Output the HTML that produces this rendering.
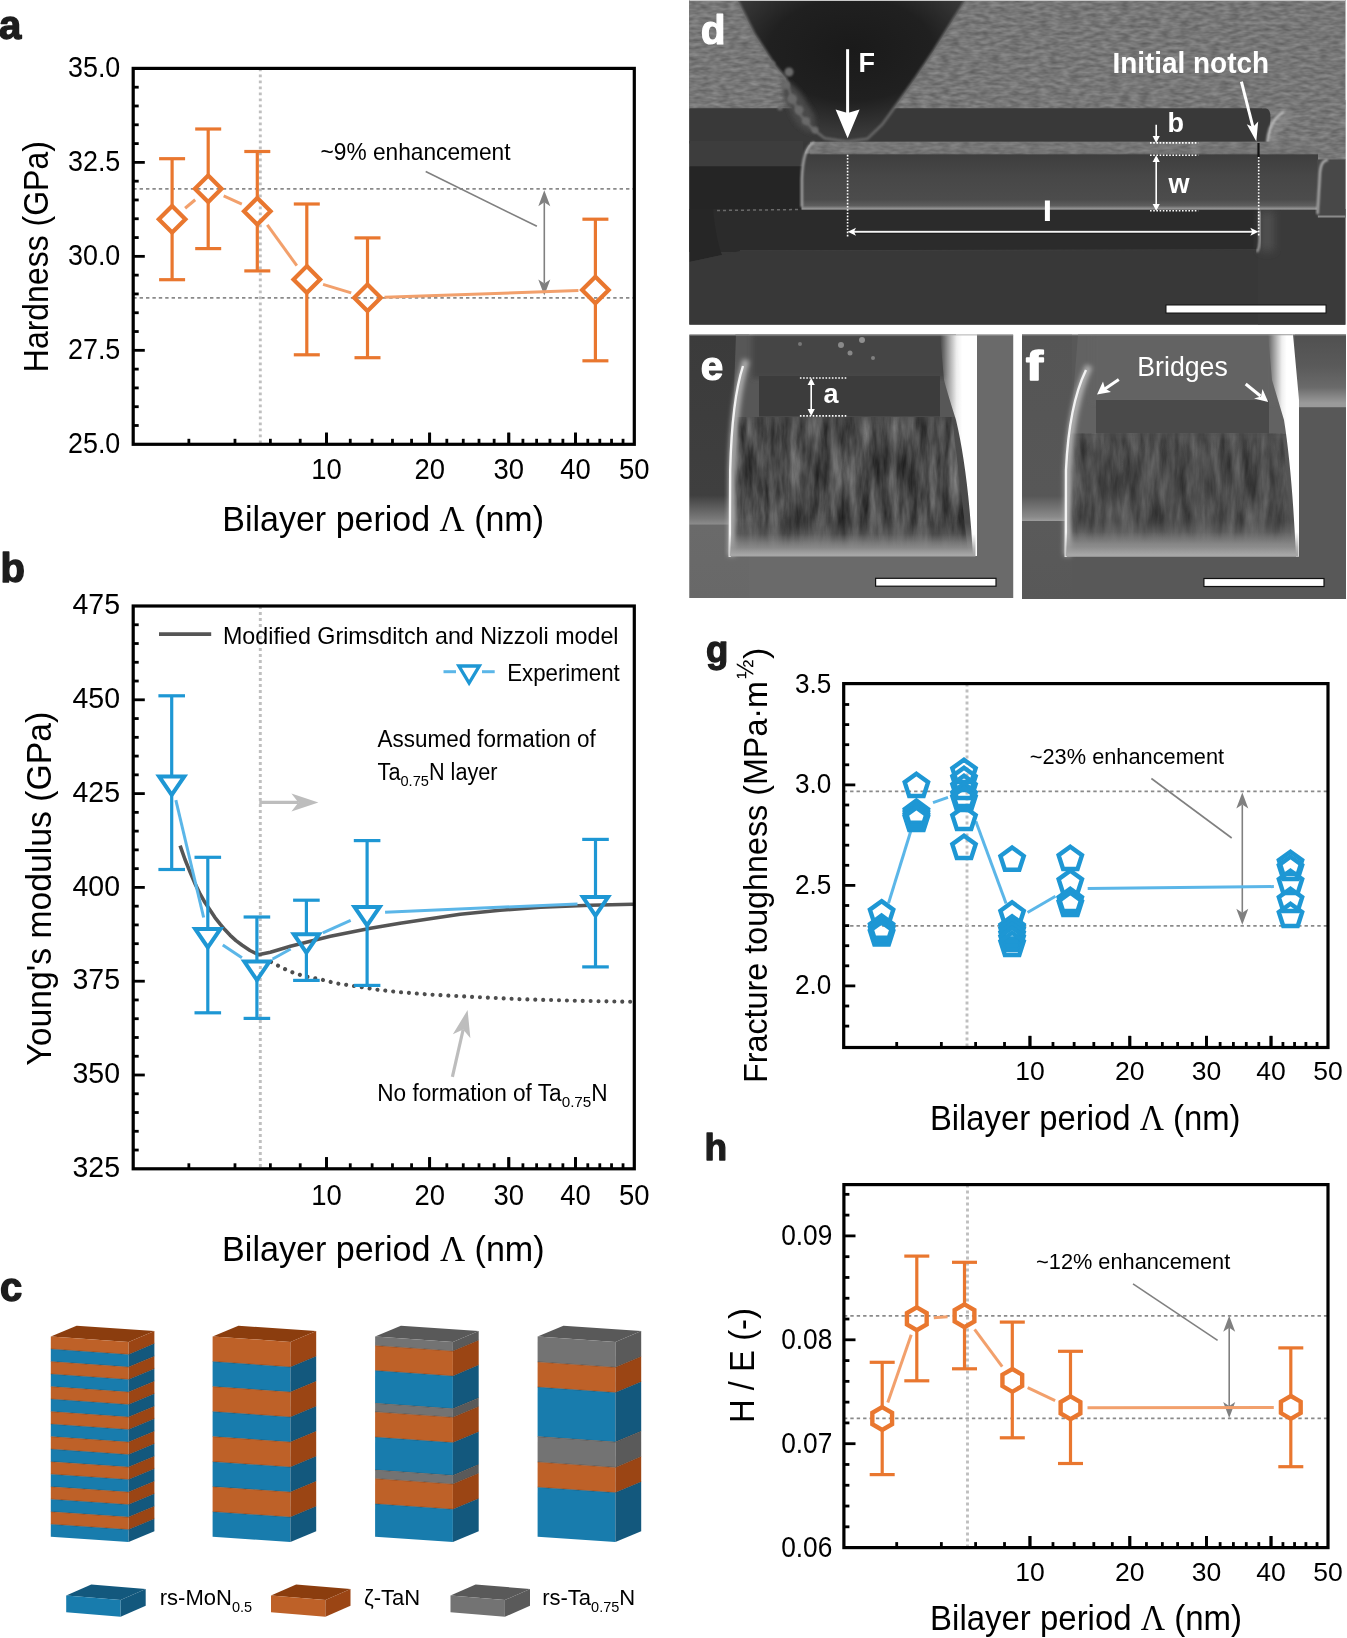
<!DOCTYPE html>
<html><head><meta charset="utf-8"><style>
html,body{margin:0;padding:0;background:#fff;width:1347px;height:1638px;overflow:hidden}
svg{display:block;will-change:transform}
text{font-family:"Liberation Sans",sans-serif}
</style></head><body>
<svg width="1347" height="1638" viewBox="0 0 1347 1638" font-family="'Liberation Sans', sans-serif">
<rect width="1347" height="1638" fill="#fff"/>
<text x="-1" y="39" font-size="40" font-weight="bold" fill="#1d1d1d" stroke="#1d1d1d" stroke-width="1.4" stroke-linejoin="round">a</text>
<text x="0.5" y="581.8" font-size="40" font-weight="bold" fill="#1d1d1d" stroke="#1d1d1d" stroke-width="1.4" stroke-linejoin="round">b</text>
<text x="0" y="1300.8" font-size="40" font-weight="bold" fill="#1d1d1d" stroke="#1d1d1d" stroke-width="1.4" stroke-linejoin="round">c</text>
<line x1="133.2" y1="188.8" x2="634.3" y2="188.8" stroke="#8a8a8a" stroke-width="1.8" stroke-dasharray="3.4 3"/>
<line x1="133.2" y1="297.8" x2="634.3" y2="297.8" stroke="#8a8a8a" stroke-width="1.8" stroke-dasharray="3.4 3"/>
<line x1="260.3" y1="68.4" x2="260.3" y2="444.3" stroke="#bfbfbf" stroke-width="2.9" stroke-dasharray="2.9 3.1"/>
<text x="320.5" y="159.6" font-size="24" textLength="190" lengthAdjust="spacingAndGlyphs">~9% enhancement</text>
<line x1="425.7" y1="171.5" x2="536.9" y2="226.3" stroke="#808080" stroke-width="1.6"/>
<line x1="544.3" y1="202.2" x2="544.3" y2="283.4" stroke="#808080" stroke-width="1.6"/>
<polygon points="544.3,190.2 550.3,206.2 544.3,202.2 538.3,206.2" fill="#808080" stroke="none" stroke-width="0"/>
<polygon points="544.3,295.4 550.3,279.4 544.3,283.4 538.3,279.4" fill="#808080" stroke="none" stroke-width="0"/>
<line x1="185.1" y1="208.25" x2="195.2" y2="199.75" stroke="#F2A06C" stroke-width="3"/>
<line x1="223.67" y1="195.86" x2="241.83" y2="204.14" stroke="#F2A06C" stroke-width="3"/>
<line x1="267.29" y1="224.96" x2="296.81" y2="265.64" stroke="#F2A06C" stroke-width="3"/>
<line x1="323.07" y1="284.33" x2="351.23" y2="292.87" stroke="#F2A06C" stroke-width="3"/>
<line x1="384.49" y1="297.22" x2="578.41" y2="290.58" stroke="#F2A06C" stroke-width="3"/>
<line x1="172.1" y1="158.7" x2="172.1" y2="207.2" stroke="#E9772F" stroke-width="3.2"/>
<line x1="172.1" y1="231.2" x2="172.1" y2="279.7" stroke="#E9772F" stroke-width="3.2"/>
<line x1="159.1" y1="158.7" x2="185.1" y2="158.7" stroke="#E9772F" stroke-width="3.2"/>
<line x1="159.1" y1="279.7" x2="185.1" y2="279.7" stroke="#E9772F" stroke-width="3.2"/>
<line x1="208.2" y1="129" x2="208.2" y2="176.8" stroke="#E9772F" stroke-width="3.2"/>
<line x1="208.2" y1="200.8" x2="208.2" y2="248.6" stroke="#E9772F" stroke-width="3.2"/>
<line x1="195.2" y1="129" x2="221.2" y2="129" stroke="#E9772F" stroke-width="3.2"/>
<line x1="195.2" y1="248.6" x2="221.2" y2="248.6" stroke="#E9772F" stroke-width="3.2"/>
<line x1="257.3" y1="151.5" x2="257.3" y2="199.2" stroke="#E9772F" stroke-width="3.2"/>
<line x1="257.3" y1="223.2" x2="257.3" y2="270.9" stroke="#E9772F" stroke-width="3.2"/>
<line x1="244.3" y1="151.5" x2="270.3" y2="151.5" stroke="#E9772F" stroke-width="3.2"/>
<line x1="244.3" y1="270.9" x2="270.3" y2="270.9" stroke="#E9772F" stroke-width="3.2"/>
<line x1="306.8" y1="204" x2="306.8" y2="267.4" stroke="#E9772F" stroke-width="3.2"/>
<line x1="306.8" y1="291.4" x2="306.8" y2="354.8" stroke="#E9772F" stroke-width="3.2"/>
<line x1="293.8" y1="204" x2="319.8" y2="204" stroke="#E9772F" stroke-width="3.2"/>
<line x1="293.8" y1="354.8" x2="319.8" y2="354.8" stroke="#E9772F" stroke-width="3.2"/>
<line x1="367.5" y1="237.9" x2="367.5" y2="285.8" stroke="#E9772F" stroke-width="3.2"/>
<line x1="367.5" y1="309.8" x2="367.5" y2="357.7" stroke="#E9772F" stroke-width="3.2"/>
<line x1="354.5" y1="237.9" x2="380.5" y2="237.9" stroke="#E9772F" stroke-width="3.2"/>
<line x1="354.5" y1="357.7" x2="380.5" y2="357.7" stroke="#E9772F" stroke-width="3.2"/>
<line x1="595.4" y1="219.2" x2="595.4" y2="278" stroke="#E9772F" stroke-width="3.2"/>
<line x1="595.4" y1="302" x2="595.4" y2="360.8" stroke="#E9772F" stroke-width="3.2"/>
<line x1="582.4" y1="219.2" x2="608.4" y2="219.2" stroke="#E9772F" stroke-width="3.2"/>
<line x1="582.4" y1="360.8" x2="608.4" y2="360.8" stroke="#E9772F" stroke-width="3.2"/>
<polygon points="172.1,205.9 185.4,219.2 172.1,232.5 158.8,219.2" fill="none" stroke="#E9772F" stroke-width="4.2"/>
<polygon points="208.2,175.5 221.5,188.8 208.2,202.1 194.9,188.8" fill="none" stroke="#E9772F" stroke-width="4.2"/>
<polygon points="257.3,197.9 270.6,211.2 257.3,224.5 244,211.2" fill="none" stroke="#E9772F" stroke-width="4.2"/>
<polygon points="306.8,266.1 320.1,279.4 306.8,292.7 293.5,279.4" fill="none" stroke="#E9772F" stroke-width="4.2"/>
<polygon points="367.5,284.5 380.8,297.8 367.5,311.1 354.2,297.8" fill="none" stroke="#E9772F" stroke-width="4.2"/>
<polygon points="595.4,276.7 608.7,290 595.4,303.3 582.1,290" fill="none" stroke="#E9772F" stroke-width="4.2"/>
<rect x="133.2" y="68.4" width="501.1" height="375.9" fill="none" stroke="#000" stroke-width="3.2"/>
<line x1="188.86" y1="444.3" x2="188.86" y2="438.8" stroke="#000" stroke-width="2.8"/>
<line x1="234.98" y1="444.3" x2="234.98" y2="438.8" stroke="#000" stroke-width="2.8"/>
<line x1="270.37" y1="444.3" x2="270.37" y2="438.8" stroke="#000" stroke-width="2.8"/>
<line x1="300.21" y1="444.3" x2="300.21" y2="438.8" stroke="#000" stroke-width="2.8"/>
<line x1="326.5" y1="444.3" x2="326.5" y2="432.7" stroke="#000" stroke-width="2.8"/>
<line x1="350.26" y1="444.3" x2="350.26" y2="438.8" stroke="#000" stroke-width="2.8"/>
<line x1="372.12" y1="444.3" x2="372.12" y2="438.8" stroke="#000" stroke-width="2.8"/>
<line x1="392.46" y1="444.3" x2="392.46" y2="438.8" stroke="#000" stroke-width="2.8"/>
<line x1="411.57" y1="444.3" x2="411.57" y2="438.8" stroke="#000" stroke-width="2.8"/>
<line x1="429.64" y1="444.3" x2="429.64" y2="432.7" stroke="#000" stroke-width="2.8"/>
<line x1="446.82" y1="444.3" x2="446.82" y2="438.8" stroke="#000" stroke-width="2.8"/>
<line x1="463.25" y1="444.3" x2="463.25" y2="438.8" stroke="#000" stroke-width="2.8"/>
<line x1="479" y1="444.3" x2="479" y2="438.8" stroke="#000" stroke-width="2.8"/>
<line x1="494.15" y1="444.3" x2="494.15" y2="438.8" stroke="#000" stroke-width="2.8"/>
<line x1="508.78" y1="444.3" x2="508.78" y2="432.7" stroke="#000" stroke-width="2.8"/>
<line x1="522.92" y1="444.3" x2="522.92" y2="438.8" stroke="#000" stroke-width="2.8"/>
<line x1="536.63" y1="444.3" x2="536.63" y2="438.8" stroke="#000" stroke-width="2.8"/>
<line x1="549.94" y1="444.3" x2="549.94" y2="438.8" stroke="#000" stroke-width="2.8"/>
<line x1="562.89" y1="444.3" x2="562.89" y2="438.8" stroke="#000" stroke-width="2.8"/>
<line x1="575.5" y1="444.3" x2="575.5" y2="432.7" stroke="#000" stroke-width="2.8"/>
<line x1="587.79" y1="444.3" x2="587.79" y2="438.8" stroke="#000" stroke-width="2.8"/>
<line x1="599.8" y1="444.3" x2="599.8" y2="438.8" stroke="#000" stroke-width="2.8"/>
<line x1="611.54" y1="444.3" x2="611.54" y2="438.8" stroke="#000" stroke-width="2.8"/>
<line x1="623.03" y1="444.3" x2="623.03" y2="438.8" stroke="#000" stroke-width="2.8"/>
<line x1="326.5" y1="444.3" x2="326.5" y2="432.7" stroke="#000" stroke-width="2.8"/>
<line x1="429.64" y1="444.3" x2="429.64" y2="432.7" stroke="#000" stroke-width="2.8"/>
<line x1="508.78" y1="444.3" x2="508.78" y2="432.7" stroke="#000" stroke-width="2.8"/>
<line x1="575.5" y1="444.3" x2="575.5" y2="432.7" stroke="#000" stroke-width="2.8"/>
<line x1="133.2" y1="425.5" x2="138.7" y2="425.5" stroke="#000" stroke-width="2.8"/>
<line x1="133.2" y1="406.71" x2="138.7" y2="406.71" stroke="#000" stroke-width="2.8"/>
<line x1="133.2" y1="387.92" x2="138.7" y2="387.92" stroke="#000" stroke-width="2.8"/>
<line x1="133.2" y1="369.12" x2="138.7" y2="369.12" stroke="#000" stroke-width="2.8"/>
<line x1="133.2" y1="331.53" x2="138.7" y2="331.53" stroke="#000" stroke-width="2.8"/>
<line x1="133.2" y1="312.74" x2="138.7" y2="312.74" stroke="#000" stroke-width="2.8"/>
<line x1="133.2" y1="293.94" x2="138.7" y2="293.94" stroke="#000" stroke-width="2.8"/>
<line x1="133.2" y1="275.14" x2="138.7" y2="275.14" stroke="#000" stroke-width="2.8"/>
<line x1="133.2" y1="237.56" x2="138.7" y2="237.56" stroke="#000" stroke-width="2.8"/>
<line x1="133.2" y1="218.76" x2="138.7" y2="218.76" stroke="#000" stroke-width="2.8"/>
<line x1="133.2" y1="199.97" x2="138.7" y2="199.97" stroke="#000" stroke-width="2.8"/>
<line x1="133.2" y1="181.17" x2="138.7" y2="181.17" stroke="#000" stroke-width="2.8"/>
<line x1="133.2" y1="143.58" x2="138.7" y2="143.58" stroke="#000" stroke-width="2.8"/>
<line x1="133.2" y1="124.79" x2="138.7" y2="124.79" stroke="#000" stroke-width="2.8"/>
<line x1="133.2" y1="105.99" x2="138.7" y2="105.99" stroke="#000" stroke-width="2.8"/>
<line x1="133.2" y1="87.2" x2="138.7" y2="87.2" stroke="#000" stroke-width="2.8"/>
<line x1="133.2" y1="350.33" x2="144.8" y2="350.33" stroke="#000" stroke-width="2.8"/>
<line x1="133.2" y1="256.35" x2="144.8" y2="256.35" stroke="#000" stroke-width="2.8"/>
<line x1="133.2" y1="162.38" x2="144.8" y2="162.38" stroke="#000" stroke-width="2.8"/>
<text x="120.3" y="452.5" font-size="30.2" text-anchor="end" textLength="52.3" lengthAdjust="spacingAndGlyphs">25.0</text>
<text x="120.3" y="358.53" font-size="30.2" text-anchor="end" textLength="52.3" lengthAdjust="spacingAndGlyphs">27.5</text>
<text x="120.3" y="264.55" font-size="30.2" text-anchor="end" textLength="52.3" lengthAdjust="spacingAndGlyphs">30.0</text>
<text x="120.3" y="170.57" font-size="30.2" text-anchor="end" textLength="52.3" lengthAdjust="spacingAndGlyphs">32.5</text>
<text x="120.3" y="76.6" font-size="30.2" text-anchor="end" textLength="52.3" lengthAdjust="spacingAndGlyphs">35.0</text>
<text x="326.5" y="479.2" font-size="30.2" text-anchor="middle" textLength="30.5" lengthAdjust="spacingAndGlyphs">10</text>
<text x="429.64" y="479.2" font-size="30.2" text-anchor="middle" textLength="30.5" lengthAdjust="spacingAndGlyphs">20</text>
<text x="508.78" y="479.2" font-size="30.2" text-anchor="middle" textLength="30.5" lengthAdjust="spacingAndGlyphs">30</text>
<text x="575.5" y="479.2" font-size="30.2" text-anchor="middle" textLength="30.5" lengthAdjust="spacingAndGlyphs">40</text>
<text x="634.28" y="479.2" font-size="30.2" text-anchor="middle" textLength="30.5" lengthAdjust="spacingAndGlyphs">50</text>
<text x="222.3" y="530.5" font-size="35" textLength="321.7" lengthAdjust="spacingAndGlyphs">Bilayer period <tspan font-family="'Liberation Serif', serif" font-size="35.7">&#923;</tspan> (nm)</text>
<text x="47.6" y="256.7" font-size="34.5" text-anchor="middle" textLength="231" lengthAdjust="spacingAndGlyphs" transform="rotate(-90 47.6 256.7)">Hardness (GPa)</text>
<line x1="260.3" y1="606" x2="260.3" y2="1168.8" stroke="#bfbfbf" stroke-width="2.9" stroke-dasharray="2.9 3.1"/>
<line x1="159" y1="634.1" x2="211.2" y2="634.1" stroke="#555" stroke-width="3.6"/>
<text x="223" y="643.7" font-size="24" textLength="395.5" lengthAdjust="spacingAndGlyphs">Modified Grimsditch and Nizzoli model</text>
<line x1="443.5" y1="671.7" x2="456" y2="671.7" stroke="#5BB6E8" stroke-width="3"/>
<line x1="482" y1="671.7" x2="494.7" y2="671.7" stroke="#5BB6E8" stroke-width="3"/>
<polygon points="458.9,666 479.3,666 469.1,683" fill="#fff" stroke="#1E97D4" stroke-width="3.4"/>
<text x="507.2" y="681.3" font-size="24" textLength="112.5" lengthAdjust="spacingAndGlyphs">Experiment</text>
<text x="377.6" y="747.4" font-size="23.3" textLength="218.2" lengthAdjust="spacingAndGlyphs">Assumed formation of</text>
<text x="377.6" y="779.6" font-size="23" textLength="120" lengthAdjust="spacingAndGlyphs">Ta<tspan font-size="15.5" dy="6.3">0.75</tspan><tspan dy="-6.3">N layer</tspan></text>
<line x1="259.3" y1="802.4" x2="298.4" y2="802.4" stroke="#bdbdbd" stroke-width="3.2"/>
<polygon points="318.4,802.4 291.4,811.4 298.4,802.4 291.4,793.4" fill="#bdbdbd" stroke="none" stroke-width="0"/>
<line x1="452.4" y1="1076.9" x2="463.17" y2="1029.5" stroke="#bdbdbd" stroke-width="3.2"/>
<polygon points="467.6,1010 470.39,1038.32 463.17,1029.5 452.84,1034.33" fill="#bdbdbd" stroke="none" stroke-width="0"/>
<text x="377.2" y="1100.9" font-size="23" textLength="230.5" lengthAdjust="spacingAndGlyphs">No formation of Ta<tspan font-size="15.5" dy="6.3">0.75</tspan><tspan dy="-6.3">N</tspan></text>
<polyline points="180.1,845.7 185,859.5 190.1,872.1 195,883.6 200.2,894.2 205,902.6 210.2,910.2 215,917.6 220.2,924.2 225,929.8 230.2,935.3 236,940.6 242.2,945.3 250,950.5 258.3,954.7 270.3,952.3 290.4,946.3 310.4,941.3 330.4,936.3 350.5,932.2 370.5,928.2 400,923.2 430,918.8 460.2,914.2 500,910.2 540.4,907.2 590,905.3 633,904.2" fill="none" stroke="#555" stroke-width="3.6" stroke-linejoin="round"/>
<polyline points="271,962 273.3,963.3 289.3,971.3 304.4,976.3 320.4,979.3 336.4,983.4 351.5,985.6 375.6,989.5 400,992.2 430,994.6 471.4,996.8 520,999.2 582.7,1000.9 632,1001.8" fill="none" stroke="#4d4d4d" stroke-width="4.1" stroke-dasharray="0.01 7.9" stroke-linecap="round"/>
<line x1="175.85" y1="800.12" x2="203.65" y2="917.48" stroke="#5BB6E8" stroke-width="3"/>
<line x1="222.78" y1="944.98" x2="241.92" y2="957.72" stroke="#5BB6E8" stroke-width="3"/>
<line x1="272.65" y1="958.98" x2="290.65" y2="949.02" stroke="#5BB6E8" stroke-width="3"/>
<line x1="322.82" y1="932.92" x2="350.68" y2="920.38" stroke="#5BB6E8" stroke-width="3"/>
<line x1="385.08" y1="912.23" x2="577.52" y2="903.97" stroke="#5BB6E8" stroke-width="3"/>
<line x1="171.7" y1="695.8" x2="171.7" y2="776.6" stroke="#1E97D4" stroke-width="3.2"/>
<line x1="171.7" y1="792.6" x2="171.7" y2="869.5" stroke="#1E97D4" stroke-width="3.2"/>
<line x1="158.4" y1="695.8" x2="185" y2="695.8" stroke="#1E97D4" stroke-width="3.2"/>
<line x1="158.4" y1="869.5" x2="185" y2="869.5" stroke="#1E97D4" stroke-width="3.2"/>
<line x1="207.8" y1="857.3" x2="207.8" y2="929" stroke="#1E97D4" stroke-width="3.2"/>
<line x1="207.8" y1="945" x2="207.8" y2="1012.8" stroke="#1E97D4" stroke-width="3.2"/>
<line x1="194.5" y1="857.3" x2="221.1" y2="857.3" stroke="#1E97D4" stroke-width="3.2"/>
<line x1="194.5" y1="1012.8" x2="221.1" y2="1012.8" stroke="#1E97D4" stroke-width="3.2"/>
<line x1="256.9" y1="917" x2="256.9" y2="961.7" stroke="#1E97D4" stroke-width="3.2"/>
<line x1="256.9" y1="977.7" x2="256.9" y2="1018.4" stroke="#1E97D4" stroke-width="3.2"/>
<line x1="243.6" y1="917" x2="270.2" y2="917" stroke="#1E97D4" stroke-width="3.2"/>
<line x1="243.6" y1="1018.4" x2="270.2" y2="1018.4" stroke="#1E97D4" stroke-width="3.2"/>
<line x1="306.4" y1="900.2" x2="306.4" y2="934.3" stroke="#1E97D4" stroke-width="3.2"/>
<line x1="306.4" y1="950.3" x2="306.4" y2="980.4" stroke="#1E97D4" stroke-width="3.2"/>
<line x1="293.1" y1="900.2" x2="319.7" y2="900.2" stroke="#1E97D4" stroke-width="3.2"/>
<line x1="293.1" y1="980.4" x2="319.7" y2="980.4" stroke="#1E97D4" stroke-width="3.2"/>
<line x1="367.1" y1="840.6" x2="367.1" y2="907" stroke="#1E97D4" stroke-width="3.2"/>
<line x1="367.1" y1="923" x2="367.1" y2="985.4" stroke="#1E97D4" stroke-width="3.2"/>
<line x1="353.8" y1="840.6" x2="380.4" y2="840.6" stroke="#1E97D4" stroke-width="3.2"/>
<line x1="353.8" y1="985.4" x2="380.4" y2="985.4" stroke="#1E97D4" stroke-width="3.2"/>
<line x1="595.5" y1="839.4" x2="595.5" y2="897.2" stroke="#1E97D4" stroke-width="3.2"/>
<line x1="595.5" y1="913.2" x2="595.5" y2="966.9" stroke="#1E97D4" stroke-width="3.2"/>
<line x1="582.2" y1="839.4" x2="608.8" y2="839.4" stroke="#1E97D4" stroke-width="3.2"/>
<line x1="582.2" y1="966.9" x2="608.8" y2="966.9" stroke="#1E97D4" stroke-width="3.2"/>
<polygon points="159.1,776.5 184.3,776.5 171.7,795" fill="none" stroke="#1E97D4" stroke-width="4"/>
<polygon points="195.2,928.9 220.4,928.9 207.8,947.4" fill="none" stroke="#1E97D4" stroke-width="4"/>
<polygon points="244.3,961.6 269.5,961.6 256.9,980.1" fill="none" stroke="#1E97D4" stroke-width="4"/>
<polygon points="293.8,934.2 319,934.2 306.4,952.7" fill="none" stroke="#1E97D4" stroke-width="4"/>
<polygon points="354.5,906.9 379.7,906.9 367.1,925.4" fill="none" stroke="#1E97D4" stroke-width="4"/>
<polygon points="582.9,897.1 608.1,897.1 595.5,915.6" fill="none" stroke="#1E97D4" stroke-width="4"/>
<rect x="133.2" y="606" width="501.1" height="562.8" fill="none" stroke="#000" stroke-width="3.2"/>
<line x1="188.86" y1="1168.8" x2="188.86" y2="1163.3" stroke="#000" stroke-width="2.8"/>
<line x1="234.98" y1="1168.8" x2="234.98" y2="1163.3" stroke="#000" stroke-width="2.8"/>
<line x1="270.37" y1="1168.8" x2="270.37" y2="1163.3" stroke="#000" stroke-width="2.8"/>
<line x1="300.21" y1="1168.8" x2="300.21" y2="1163.3" stroke="#000" stroke-width="2.8"/>
<line x1="326.5" y1="1168.8" x2="326.5" y2="1157.2" stroke="#000" stroke-width="2.8"/>
<line x1="350.26" y1="1168.8" x2="350.26" y2="1163.3" stroke="#000" stroke-width="2.8"/>
<line x1="372.12" y1="1168.8" x2="372.12" y2="1163.3" stroke="#000" stroke-width="2.8"/>
<line x1="392.46" y1="1168.8" x2="392.46" y2="1163.3" stroke="#000" stroke-width="2.8"/>
<line x1="411.57" y1="1168.8" x2="411.57" y2="1163.3" stroke="#000" stroke-width="2.8"/>
<line x1="429.64" y1="1168.8" x2="429.64" y2="1157.2" stroke="#000" stroke-width="2.8"/>
<line x1="446.82" y1="1168.8" x2="446.82" y2="1163.3" stroke="#000" stroke-width="2.8"/>
<line x1="463.25" y1="1168.8" x2="463.25" y2="1163.3" stroke="#000" stroke-width="2.8"/>
<line x1="479" y1="1168.8" x2="479" y2="1163.3" stroke="#000" stroke-width="2.8"/>
<line x1="494.15" y1="1168.8" x2="494.15" y2="1163.3" stroke="#000" stroke-width="2.8"/>
<line x1="508.78" y1="1168.8" x2="508.78" y2="1157.2" stroke="#000" stroke-width="2.8"/>
<line x1="522.92" y1="1168.8" x2="522.92" y2="1163.3" stroke="#000" stroke-width="2.8"/>
<line x1="536.63" y1="1168.8" x2="536.63" y2="1163.3" stroke="#000" stroke-width="2.8"/>
<line x1="549.94" y1="1168.8" x2="549.94" y2="1163.3" stroke="#000" stroke-width="2.8"/>
<line x1="562.89" y1="1168.8" x2="562.89" y2="1163.3" stroke="#000" stroke-width="2.8"/>
<line x1="575.5" y1="1168.8" x2="575.5" y2="1157.2" stroke="#000" stroke-width="2.8"/>
<line x1="587.79" y1="1168.8" x2="587.79" y2="1163.3" stroke="#000" stroke-width="2.8"/>
<line x1="599.8" y1="1168.8" x2="599.8" y2="1163.3" stroke="#000" stroke-width="2.8"/>
<line x1="611.54" y1="1168.8" x2="611.54" y2="1163.3" stroke="#000" stroke-width="2.8"/>
<line x1="623.03" y1="1168.8" x2="623.03" y2="1163.3" stroke="#000" stroke-width="2.8"/>
<line x1="326.5" y1="1168.8" x2="326.5" y2="1157.2" stroke="#000" stroke-width="2.8"/>
<line x1="429.64" y1="1168.8" x2="429.64" y2="1157.2" stroke="#000" stroke-width="2.8"/>
<line x1="508.78" y1="1168.8" x2="508.78" y2="1157.2" stroke="#000" stroke-width="2.8"/>
<line x1="575.5" y1="1168.8" x2="575.5" y2="1157.2" stroke="#000" stroke-width="2.8"/>
<line x1="133.2" y1="1150.04" x2="138.7" y2="1150.04" stroke="#000" stroke-width="2.8"/>
<line x1="133.2" y1="1131.28" x2="138.7" y2="1131.28" stroke="#000" stroke-width="2.8"/>
<line x1="133.2" y1="1112.52" x2="138.7" y2="1112.52" stroke="#000" stroke-width="2.8"/>
<line x1="133.2" y1="1093.76" x2="138.7" y2="1093.76" stroke="#000" stroke-width="2.8"/>
<line x1="133.2" y1="1056.24" x2="138.7" y2="1056.24" stroke="#000" stroke-width="2.8"/>
<line x1="133.2" y1="1037.48" x2="138.7" y2="1037.48" stroke="#000" stroke-width="2.8"/>
<line x1="133.2" y1="1018.72" x2="138.7" y2="1018.72" stroke="#000" stroke-width="2.8"/>
<line x1="133.2" y1="999.96" x2="138.7" y2="999.96" stroke="#000" stroke-width="2.8"/>
<line x1="133.2" y1="962.44" x2="138.7" y2="962.44" stroke="#000" stroke-width="2.8"/>
<line x1="133.2" y1="943.68" x2="138.7" y2="943.68" stroke="#000" stroke-width="2.8"/>
<line x1="133.2" y1="924.92" x2="138.7" y2="924.92" stroke="#000" stroke-width="2.8"/>
<line x1="133.2" y1="906.16" x2="138.7" y2="906.16" stroke="#000" stroke-width="2.8"/>
<line x1="133.2" y1="868.64" x2="138.7" y2="868.64" stroke="#000" stroke-width="2.8"/>
<line x1="133.2" y1="849.88" x2="138.7" y2="849.88" stroke="#000" stroke-width="2.8"/>
<line x1="133.2" y1="831.12" x2="138.7" y2="831.12" stroke="#000" stroke-width="2.8"/>
<line x1="133.2" y1="812.36" x2="138.7" y2="812.36" stroke="#000" stroke-width="2.8"/>
<line x1="133.2" y1="774.84" x2="138.7" y2="774.84" stroke="#000" stroke-width="2.8"/>
<line x1="133.2" y1="756.08" x2="138.7" y2="756.08" stroke="#000" stroke-width="2.8"/>
<line x1="133.2" y1="737.32" x2="138.7" y2="737.32" stroke="#000" stroke-width="2.8"/>
<line x1="133.2" y1="718.56" x2="138.7" y2="718.56" stroke="#000" stroke-width="2.8"/>
<line x1="133.2" y1="681.04" x2="138.7" y2="681.04" stroke="#000" stroke-width="2.8"/>
<line x1="133.2" y1="662.28" x2="138.7" y2="662.28" stroke="#000" stroke-width="2.8"/>
<line x1="133.2" y1="643.52" x2="138.7" y2="643.52" stroke="#000" stroke-width="2.8"/>
<line x1="133.2" y1="624.76" x2="138.7" y2="624.76" stroke="#000" stroke-width="2.8"/>
<line x1="133.2" y1="1075" x2="144.8" y2="1075" stroke="#000" stroke-width="2.8"/>
<line x1="133.2" y1="981.2" x2="144.8" y2="981.2" stroke="#000" stroke-width="2.8"/>
<line x1="133.2" y1="887.4" x2="144.8" y2="887.4" stroke="#000" stroke-width="2.8"/>
<line x1="133.2" y1="793.6" x2="144.8" y2="793.6" stroke="#000" stroke-width="2.8"/>
<line x1="133.2" y1="699.8" x2="144.8" y2="699.8" stroke="#000" stroke-width="2.8"/>
<text x="120" y="1177" font-size="30.2" text-anchor="end" textLength="47.5" lengthAdjust="spacingAndGlyphs">325</text>
<text x="120" y="1083.2" font-size="30.2" text-anchor="end" textLength="47.5" lengthAdjust="spacingAndGlyphs">350</text>
<text x="120" y="989.4" font-size="30.2" text-anchor="end" textLength="47.5" lengthAdjust="spacingAndGlyphs">375</text>
<text x="120" y="895.6" font-size="30.2" text-anchor="end" textLength="47.5" lengthAdjust="spacingAndGlyphs">400</text>
<text x="120" y="801.8" font-size="30.2" text-anchor="end" textLength="47.5" lengthAdjust="spacingAndGlyphs">425</text>
<text x="120" y="708" font-size="30.2" text-anchor="end" textLength="47.5" lengthAdjust="spacingAndGlyphs">450</text>
<text x="120" y="614.2" font-size="30.2" text-anchor="end" textLength="47.5" lengthAdjust="spacingAndGlyphs">475</text>
<text x="326.5" y="1204.8" font-size="30.2" text-anchor="middle" textLength="30.5" lengthAdjust="spacingAndGlyphs">10</text>
<text x="429.64" y="1204.8" font-size="30.2" text-anchor="middle" textLength="30.5" lengthAdjust="spacingAndGlyphs">20</text>
<text x="508.78" y="1204.8" font-size="30.2" text-anchor="middle" textLength="30.5" lengthAdjust="spacingAndGlyphs">30</text>
<text x="575.5" y="1204.8" font-size="30.2" text-anchor="middle" textLength="30.5" lengthAdjust="spacingAndGlyphs">40</text>
<text x="634.28" y="1204.8" font-size="30.2" text-anchor="middle" textLength="30.5" lengthAdjust="spacingAndGlyphs">50</text>
<text x="222.1" y="1260.5" font-size="35" textLength="322.5" lengthAdjust="spacingAndGlyphs">Bilayer period <tspan font-family="'Liberation Serif', serif" font-size="35.7">&#923;</tspan> (nm)</text>
<text x="51.3" y="888.7" font-size="34.5" text-anchor="middle" textLength="354" lengthAdjust="spacingAndGlyphs" transform="rotate(-90 51.3 888.7)">Young's modulus (GPa)</text>
<polygon points="50.8,1336.5 128.6,1341.9 154.4,1331.1 76.6,1325.7" fill="#8B3D0E" stroke="none" stroke-width="0"/>
<polygon points="50.8,1336.5 128.6,1341.9 128.6,1354.41 50.8,1349.01" fill="#BE6128" stroke="none" stroke-width="0"/>
<polygon points="128.6,1341.9 154.4,1331.1 154.4,1343.61 128.6,1354.41" fill="#9B4514" stroke="none" stroke-width="0"/>
<polygon points="50.8,1349.01 128.6,1354.41 128.6,1366.93 50.8,1361.53" fill="#187CAD" stroke="none" stroke-width="0"/>
<polygon points="128.6,1354.41 154.4,1343.61 154.4,1356.13 128.6,1366.93" fill="#13587D" stroke="none" stroke-width="0"/>
<polygon points="50.8,1361.53 128.6,1366.93 128.6,1379.44 50.8,1374.04" fill="#BE6128" stroke="none" stroke-width="0"/>
<polygon points="128.6,1366.93 154.4,1356.13 154.4,1368.64 128.6,1379.44" fill="#9B4514" stroke="none" stroke-width="0"/>
<polygon points="50.8,1374.04 128.6,1379.44 128.6,1391.95 50.8,1386.55" fill="#187CAD" stroke="none" stroke-width="0"/>
<polygon points="128.6,1379.44 154.4,1368.64 154.4,1381.15 128.6,1391.95" fill="#13587D" stroke="none" stroke-width="0"/>
<polygon points="50.8,1386.55 128.6,1391.95 128.6,1404.46 50.8,1399.06" fill="#BE6128" stroke="none" stroke-width="0"/>
<polygon points="128.6,1391.95 154.4,1381.15 154.4,1393.66 128.6,1404.46" fill="#9B4514" stroke="none" stroke-width="0"/>
<polygon points="50.8,1399.06 128.6,1404.46 128.6,1416.98 50.8,1411.58" fill="#187CAD" stroke="none" stroke-width="0"/>
<polygon points="128.6,1404.46 154.4,1393.66 154.4,1406.18 128.6,1416.98" fill="#13587D" stroke="none" stroke-width="0"/>
<polygon points="50.8,1411.58 128.6,1416.98 128.6,1429.49 50.8,1424.09" fill="#BE6128" stroke="none" stroke-width="0"/>
<polygon points="128.6,1416.98 154.4,1406.18 154.4,1418.69 128.6,1429.49" fill="#9B4514" stroke="none" stroke-width="0"/>
<polygon points="50.8,1424.09 128.6,1429.49 128.6,1442 50.8,1436.6" fill="#187CAD" stroke="none" stroke-width="0"/>
<polygon points="128.6,1429.49 154.4,1418.69 154.4,1431.2 128.6,1442" fill="#13587D" stroke="none" stroke-width="0"/>
<polygon points="50.8,1436.6 128.6,1442 128.6,1454.51 50.8,1449.11" fill="#BE6128" stroke="none" stroke-width="0"/>
<polygon points="128.6,1442 154.4,1431.2 154.4,1443.71 128.6,1454.51" fill="#9B4514" stroke="none" stroke-width="0"/>
<polygon points="50.8,1449.11 128.6,1454.51 128.6,1467.03 50.8,1461.63" fill="#187CAD" stroke="none" stroke-width="0"/>
<polygon points="128.6,1454.51 154.4,1443.71 154.4,1456.23 128.6,1467.03" fill="#13587D" stroke="none" stroke-width="0"/>
<polygon points="50.8,1461.63 128.6,1467.03 128.6,1479.54 50.8,1474.14" fill="#BE6128" stroke="none" stroke-width="0"/>
<polygon points="128.6,1467.03 154.4,1456.23 154.4,1468.74 128.6,1479.54" fill="#9B4514" stroke="none" stroke-width="0"/>
<polygon points="50.8,1474.14 128.6,1479.54 128.6,1492.05 50.8,1486.65" fill="#187CAD" stroke="none" stroke-width="0"/>
<polygon points="128.6,1479.54 154.4,1468.74 154.4,1481.25 128.6,1492.05" fill="#13587D" stroke="none" stroke-width="0"/>
<polygon points="50.8,1486.65 128.6,1492.05 128.6,1504.56 50.8,1499.16" fill="#BE6128" stroke="none" stroke-width="0"/>
<polygon points="128.6,1492.05 154.4,1481.25 154.4,1493.76 128.6,1504.56" fill="#9B4514" stroke="none" stroke-width="0"/>
<polygon points="50.8,1499.16 128.6,1504.56 128.6,1517.08 50.8,1511.68" fill="#187CAD" stroke="none" stroke-width="0"/>
<polygon points="128.6,1504.56 154.4,1493.76 154.4,1506.28 128.6,1517.08" fill="#13587D" stroke="none" stroke-width="0"/>
<polygon points="50.8,1511.68 128.6,1517.08 128.6,1529.59 50.8,1524.19" fill="#BE6128" stroke="none" stroke-width="0"/>
<polygon points="128.6,1517.08 154.4,1506.28 154.4,1518.79 128.6,1529.59" fill="#9B4514" stroke="none" stroke-width="0"/>
<polygon points="50.8,1524.19 128.6,1529.59 128.6,1542.1 50.8,1536.7" fill="#187CAD" stroke="none" stroke-width="0"/>
<polygon points="128.6,1529.59 154.4,1518.79 154.4,1531.3 128.6,1542.1" fill="#13587D" stroke="none" stroke-width="0"/>
<polyline points="50.8,1349.01 128.6,1354.41 154.4,1343.61" fill="none" stroke="rgba(60,30,10,0.35)" stroke-width="0.9"/>
<polyline points="50.8,1361.53 128.6,1366.93 154.4,1356.13" fill="none" stroke="rgba(60,30,10,0.35)" stroke-width="0.9"/>
<polyline points="50.8,1374.04 128.6,1379.44 154.4,1368.64" fill="none" stroke="rgba(60,30,10,0.35)" stroke-width="0.9"/>
<polyline points="50.8,1386.55 128.6,1391.95 154.4,1381.15" fill="none" stroke="rgba(60,30,10,0.35)" stroke-width="0.9"/>
<polyline points="50.8,1399.06 128.6,1404.46 154.4,1393.66" fill="none" stroke="rgba(60,30,10,0.35)" stroke-width="0.9"/>
<polyline points="50.8,1411.58 128.6,1416.98 154.4,1406.18" fill="none" stroke="rgba(60,30,10,0.35)" stroke-width="0.9"/>
<polyline points="50.8,1424.09 128.6,1429.49 154.4,1418.69" fill="none" stroke="rgba(60,30,10,0.35)" stroke-width="0.9"/>
<polyline points="50.8,1436.6 128.6,1442 154.4,1431.2" fill="none" stroke="rgba(60,30,10,0.35)" stroke-width="0.9"/>
<polyline points="50.8,1449.11 128.6,1454.51 154.4,1443.71" fill="none" stroke="rgba(60,30,10,0.35)" stroke-width="0.9"/>
<polyline points="50.8,1461.63 128.6,1467.03 154.4,1456.23" fill="none" stroke="rgba(60,30,10,0.35)" stroke-width="0.9"/>
<polyline points="50.8,1474.14 128.6,1479.54 154.4,1468.74" fill="none" stroke="rgba(60,30,10,0.35)" stroke-width="0.9"/>
<polyline points="50.8,1486.65 128.6,1492.05 154.4,1481.25" fill="none" stroke="rgba(60,30,10,0.35)" stroke-width="0.9"/>
<polyline points="50.8,1499.16 128.6,1504.56 154.4,1493.76" fill="none" stroke="rgba(60,30,10,0.35)" stroke-width="0.9"/>
<polyline points="50.8,1511.68 128.6,1517.08 154.4,1506.28" fill="none" stroke="rgba(60,30,10,0.35)" stroke-width="0.9"/>
<polyline points="50.8,1524.19 128.6,1529.59 154.4,1518.79" fill="none" stroke="rgba(60,30,10,0.35)" stroke-width="0.9"/>
<polygon points="212.6,1336.5 290.4,1341.9 316.2,1331.1 238.4,1325.7" fill="#8B3D0E" stroke="none" stroke-width="0"/>
<polygon points="212.6,1336.5 290.4,1341.9 290.4,1366.93 212.6,1361.53" fill="#BE6128" stroke="none" stroke-width="0"/>
<polygon points="290.4,1341.9 316.2,1331.1 316.2,1356.13 290.4,1366.93" fill="#9B4514" stroke="none" stroke-width="0"/>
<polygon points="212.6,1361.53 290.4,1366.93 290.4,1391.95 212.6,1386.55" fill="#187CAD" stroke="none" stroke-width="0"/>
<polygon points="290.4,1366.93 316.2,1356.13 316.2,1381.15 290.4,1391.95" fill="#13587D" stroke="none" stroke-width="0"/>
<polygon points="212.6,1386.55 290.4,1391.95 290.4,1416.98 212.6,1411.58" fill="#BE6128" stroke="none" stroke-width="0"/>
<polygon points="290.4,1391.95 316.2,1381.15 316.2,1406.18 290.4,1416.98" fill="#9B4514" stroke="none" stroke-width="0"/>
<polygon points="212.6,1411.58 290.4,1416.98 290.4,1442 212.6,1436.6" fill="#187CAD" stroke="none" stroke-width="0"/>
<polygon points="290.4,1416.98 316.2,1406.18 316.2,1431.2 290.4,1442" fill="#13587D" stroke="none" stroke-width="0"/>
<polygon points="212.6,1436.6 290.4,1442 290.4,1467.03 212.6,1461.63" fill="#BE6128" stroke="none" stroke-width="0"/>
<polygon points="290.4,1442 316.2,1431.2 316.2,1456.23 290.4,1467.03" fill="#9B4514" stroke="none" stroke-width="0"/>
<polygon points="212.6,1461.63 290.4,1467.03 290.4,1492.05 212.6,1486.65" fill="#187CAD" stroke="none" stroke-width="0"/>
<polygon points="290.4,1467.03 316.2,1456.23 316.2,1481.25 290.4,1492.05" fill="#13587D" stroke="none" stroke-width="0"/>
<polygon points="212.6,1486.65 290.4,1492.05 290.4,1517.08 212.6,1511.68" fill="#BE6128" stroke="none" stroke-width="0"/>
<polygon points="290.4,1492.05 316.2,1481.25 316.2,1506.28 290.4,1517.08" fill="#9B4514" stroke="none" stroke-width="0"/>
<polygon points="212.6,1511.68 290.4,1517.08 290.4,1542.1 212.6,1536.7" fill="#187CAD" stroke="none" stroke-width="0"/>
<polygon points="290.4,1517.08 316.2,1506.28 316.2,1531.3 290.4,1542.1" fill="#13587D" stroke="none" stroke-width="0"/>
<polyline points="212.6,1361.53 290.4,1366.93 316.2,1356.13" fill="none" stroke="rgba(60,30,10,0.35)" stroke-width="0.9"/>
<polyline points="212.6,1386.55 290.4,1391.95 316.2,1381.15" fill="none" stroke="rgba(60,30,10,0.35)" stroke-width="0.9"/>
<polyline points="212.6,1411.58 290.4,1416.98 316.2,1406.18" fill="none" stroke="rgba(60,30,10,0.35)" stroke-width="0.9"/>
<polyline points="212.6,1436.6 290.4,1442 316.2,1431.2" fill="none" stroke="rgba(60,30,10,0.35)" stroke-width="0.9"/>
<polyline points="212.6,1461.63 290.4,1467.03 316.2,1456.23" fill="none" stroke="rgba(60,30,10,0.35)" stroke-width="0.9"/>
<polyline points="212.6,1486.65 290.4,1492.05 316.2,1481.25" fill="none" stroke="rgba(60,30,10,0.35)" stroke-width="0.9"/>
<polyline points="212.6,1511.68 290.4,1517.08 316.2,1506.28" fill="none" stroke="rgba(60,30,10,0.35)" stroke-width="0.9"/>
<polygon points="375.1,1336.5 452.9,1341.9 478.7,1331.1 400.9,1325.7" fill="#595959" stroke="none" stroke-width="0"/>
<polygon points="375.1,1336.5 452.9,1341.9 452.9,1351 375.1,1345.6" fill="#737373" stroke="none" stroke-width="0"/>
<polygon points="452.9,1341.9 478.7,1331.1 478.7,1340.2 452.9,1351" fill="#5A5A5A" stroke="none" stroke-width="0"/>
<polygon points="375.1,1345.6 452.9,1351 452.9,1375.9 375.1,1370.5" fill="#BE6128" stroke="none" stroke-width="0"/>
<polygon points="452.9,1351 478.7,1340.2 478.7,1365.1 452.9,1375.9" fill="#9B4514" stroke="none" stroke-width="0"/>
<polygon points="375.1,1370.5 452.9,1375.9 452.9,1408.7 375.1,1403.3" fill="#187CAD" stroke="none" stroke-width="0"/>
<polygon points="452.9,1375.9 478.7,1365.1 478.7,1397.9 452.9,1408.7" fill="#13587D" stroke="none" stroke-width="0"/>
<polygon points="375.1,1403.3 452.9,1408.7 452.9,1417.3 375.1,1411.9" fill="#737373" stroke="none" stroke-width="0"/>
<polygon points="452.9,1408.7 478.7,1397.9 478.7,1406.5 452.9,1417.3" fill="#5A5A5A" stroke="none" stroke-width="0"/>
<polygon points="375.1,1411.9 452.9,1417.3 452.9,1442.5 375.1,1437.1" fill="#BE6128" stroke="none" stroke-width="0"/>
<polygon points="452.9,1417.3 478.7,1406.5 478.7,1431.7 452.9,1442.5" fill="#9B4514" stroke="none" stroke-width="0"/>
<polygon points="375.1,1437.1 452.9,1442.5 452.9,1475.4 375.1,1470" fill="#187CAD" stroke="none" stroke-width="0"/>
<polygon points="452.9,1442.5 478.7,1431.7 478.7,1464.6 452.9,1475.4" fill="#13587D" stroke="none" stroke-width="0"/>
<polygon points="375.1,1470 452.9,1475.4 452.9,1484 375.1,1478.6" fill="#737373" stroke="none" stroke-width="0"/>
<polygon points="452.9,1475.4 478.7,1464.6 478.7,1473.2 452.9,1484" fill="#5A5A5A" stroke="none" stroke-width="0"/>
<polygon points="375.1,1478.6 452.9,1484 452.9,1509.2 375.1,1503.8" fill="#BE6128" stroke="none" stroke-width="0"/>
<polygon points="452.9,1484 478.7,1473.2 478.7,1498.4 452.9,1509.2" fill="#9B4514" stroke="none" stroke-width="0"/>
<polygon points="375.1,1503.8 452.9,1509.2 452.9,1542.1 375.1,1536.7" fill="#187CAD" stroke="none" stroke-width="0"/>
<polygon points="452.9,1509.2 478.7,1498.4 478.7,1531.3 452.9,1542.1" fill="#13587D" stroke="none" stroke-width="0"/>
<polyline points="375.1,1345.6 452.9,1351 478.7,1340.2" fill="none" stroke="rgba(60,30,10,0.35)" stroke-width="0.9"/>
<polyline points="375.1,1370.5 452.9,1375.9 478.7,1365.1" fill="none" stroke="rgba(60,30,10,0.35)" stroke-width="0.9"/>
<polyline points="375.1,1403.3 452.9,1408.7 478.7,1397.9" fill="none" stroke="rgba(60,30,10,0.35)" stroke-width="0.9"/>
<polyline points="375.1,1411.9 452.9,1417.3 478.7,1406.5" fill="none" stroke="rgba(60,30,10,0.35)" stroke-width="0.9"/>
<polyline points="375.1,1437.1 452.9,1442.5 478.7,1431.7" fill="none" stroke="rgba(60,30,10,0.35)" stroke-width="0.9"/>
<polyline points="375.1,1470 452.9,1475.4 478.7,1464.6" fill="none" stroke="rgba(60,30,10,0.35)" stroke-width="0.9"/>
<polyline points="375.1,1478.6 452.9,1484 478.7,1473.2" fill="none" stroke="rgba(60,30,10,0.35)" stroke-width="0.9"/>
<polyline points="375.1,1503.8 452.9,1509.2 478.7,1498.4" fill="none" stroke="rgba(60,30,10,0.35)" stroke-width="0.9"/>
<polygon points="537.6,1336.5 615.4,1341.9 641.2,1331.1 563.4,1325.7" fill="#595959" stroke="none" stroke-width="0"/>
<polygon points="537.6,1336.5 615.4,1341.9 615.4,1367.3 537.6,1361.9" fill="#737373" stroke="none" stroke-width="0"/>
<polygon points="615.4,1341.9 641.2,1331.1 641.2,1356.5 615.4,1367.3" fill="#5A5A5A" stroke="none" stroke-width="0"/>
<polygon points="537.6,1361.9 615.4,1367.3 615.4,1392.5 537.6,1387.1" fill="#BE6128" stroke="none" stroke-width="0"/>
<polygon points="615.4,1367.3 641.2,1356.5 641.2,1381.7 615.4,1392.5" fill="#9B4514" stroke="none" stroke-width="0"/>
<polygon points="537.6,1387.1 615.4,1392.5 615.4,1442 537.6,1436.6" fill="#187CAD" stroke="none" stroke-width="0"/>
<polygon points="615.4,1392.5 641.2,1381.7 641.2,1431.2 615.4,1442" fill="#13587D" stroke="none" stroke-width="0"/>
<polygon points="537.6,1436.6 615.4,1442 615.4,1467.4 537.6,1462" fill="#737373" stroke="none" stroke-width="0"/>
<polygon points="615.4,1442 641.2,1431.2 641.2,1456.6 615.4,1467.4" fill="#5A5A5A" stroke="none" stroke-width="0"/>
<polygon points="537.6,1462 615.4,1467.4 615.4,1492.6 537.6,1487.2" fill="#BE6128" stroke="none" stroke-width="0"/>
<polygon points="615.4,1467.4 641.2,1456.6 641.2,1481.8 615.4,1492.6" fill="#9B4514" stroke="none" stroke-width="0"/>
<polygon points="537.6,1487.2 615.4,1492.6 615.4,1542.1 537.6,1536.7" fill="#187CAD" stroke="none" stroke-width="0"/>
<polygon points="615.4,1492.6 641.2,1481.8 641.2,1531.3 615.4,1542.1" fill="#13587D" stroke="none" stroke-width="0"/>
<polyline points="537.6,1361.9 615.4,1367.3 641.2,1356.5" fill="none" stroke="rgba(60,30,10,0.35)" stroke-width="0.9"/>
<polyline points="537.6,1387.1 615.4,1392.5 641.2,1381.7" fill="none" stroke="rgba(60,30,10,0.35)" stroke-width="0.9"/>
<polyline points="537.6,1436.6 615.4,1442 641.2,1431.2" fill="none" stroke="rgba(60,30,10,0.35)" stroke-width="0.9"/>
<polyline points="537.6,1462 615.4,1467.4 641.2,1456.6" fill="none" stroke="rgba(60,30,10,0.35)" stroke-width="0.9"/>
<polyline points="537.6,1487.2 615.4,1492.6 641.2,1481.8" fill="none" stroke="rgba(60,30,10,0.35)" stroke-width="0.9"/>
<polygon points="66.2,1595.6 120.6,1600.1 145.7,1589 91.3,1584.5" fill="#13587D" stroke="none" stroke-width="0"/>
<polygon points="66.2,1595.6 120.6,1600.1 120.6,1616.8 66.2,1612.3" fill="#187CAD" stroke="none" stroke-width="0"/>
<polygon points="120.6,1600.1 145.7,1589 145.7,1605.7 120.6,1616.8" fill="#13587D" stroke="none" stroke-width="0"/>
<polygon points="271,1595.6 325.4,1600.1 350.5,1589 296.1,1584.5" fill="#8B3D0E" stroke="none" stroke-width="0"/>
<polygon points="271,1595.6 325.4,1600.1 325.4,1616.8 271,1612.3" fill="#BE6128" stroke="none" stroke-width="0"/>
<polygon points="325.4,1600.1 350.5,1589 350.5,1605.7 325.4,1616.8" fill="#9B4514" stroke="none" stroke-width="0"/>
<polygon points="450.5,1595.6 504.9,1600.1 530,1589 475.6,1584.5" fill="#595959" stroke="none" stroke-width="0"/>
<polygon points="450.5,1595.6 504.9,1600.1 504.9,1616.8 450.5,1612.3" fill="#737373" stroke="none" stroke-width="0"/>
<polygon points="504.9,1600.1 530,1589 530,1605.7 504.9,1616.8" fill="#5A5A5A" stroke="none" stroke-width="0"/>
<text x="159.8" y="1604.5" font-size="22">rs-MoN<tspan font-size="14.5" dy="7.5">0.5</tspan></text>
<text x="364" y="1604.5" font-size="22">&#950;-TaN</text>
<text x="542.2" y="1604.5" font-size="22">rs-Ta<tspan font-size="14.5" dy="7.5">0.75</tspan><tspan dy="-7.5">N</tspan></text>
<text x="706" y="661.5" font-size="36.5" font-weight="bold" fill="#1d1d1d" stroke="#1d1d1d" stroke-width="1.3" stroke-linejoin="round">g</text>
<line x1="843.7" y1="791.3" x2="1328" y2="791.3" stroke="#8a8a8a" stroke-width="1.8" stroke-dasharray="3.4 3"/>
<line x1="843.7" y1="925.8" x2="1328" y2="925.8" stroke="#8a8a8a" stroke-width="1.8" stroke-dasharray="3.4 3"/>
<line x1="967" y1="683.6" x2="967" y2="1047.5" stroke="#bfbfbf" stroke-width="2.9" stroke-dasharray="2.9 3.1"/>
<text x="1029.8" y="764.1" font-size="21.5" textLength="194.3" lengthAdjust="spacingAndGlyphs">~23% enhancement</text>
<line x1="1151.4" y1="778.5" x2="1231.7" y2="838" stroke="#808080" stroke-width="1.6"/>
<line x1="1242.3" y1="804.6" x2="1242.3" y2="912.8" stroke="#808080" stroke-width="1.6"/>
<polygon points="1242.3,792.6 1248.3,808.6 1242.3,804.6 1236.3,808.6" fill="#808080" stroke="none" stroke-width="0"/>
<polygon points="1242.3,924.8 1248.3,908.8 1242.3,912.8 1236.3,908.8" fill="#808080" stroke="none" stroke-width="0"/>
<line x1="888.5" y1="903.2" x2="910.8" y2="831" stroke="#5BB6E8" stroke-width="3"/>
<line x1="933" y1="802.6" x2="948" y2="797.3" stroke="#5BB6E8" stroke-width="3"/>
<line x1="975.8" y1="821.3" x2="1006.1" y2="903.5" stroke="#5BB6E8" stroke-width="3"/>
<line x1="1027.5" y1="912.5" x2="1055.5" y2="896.3" stroke="#5BB6E8" stroke-width="3"/>
<line x1="1087.7" y1="888.4" x2="1273.9" y2="886.6" stroke="#5BB6E8" stroke-width="3"/>
<polygon points="881.6,901.1 893.3,909.6 888.83,923.35 874.37,923.35 869.9,909.6" fill="none" stroke="#1E97D4" stroke-width="4.4"/>
<polygon points="881.6,915.5 893.3,924 888.83,937.75 874.37,937.75 869.9,924" fill="none" stroke="#1E97D4" stroke-width="4.4"/>
<polygon points="881.6,918.7 893.3,927.2 888.83,940.95 874.37,940.95 869.9,927.2" fill="none" stroke="#1E97D4" stroke-width="4.4"/>
<polygon points="881.6,922.2 893.3,930.7 888.83,944.45 874.37,944.45 869.9,930.7" fill="none" stroke="#1E97D4" stroke-width="4.4"/>
<polygon points="916.4,773.7 928.1,782.2 923.63,795.95 909.17,795.95 904.7,782.2" fill="none" stroke="#1E97D4" stroke-width="4.4"/>
<polygon points="916.4,800.5 928.1,809 923.63,822.75 909.17,822.75 904.7,809" fill="none" stroke="#1E97D4" stroke-width="4.4"/>
<polygon points="916.4,803.2 928.1,811.7 923.63,825.45 909.17,825.45 904.7,811.7" fill="none" stroke="#1E97D4" stroke-width="4.4"/>
<polygon points="916.4,805.7 928.1,814.2 923.63,827.95 909.17,827.95 904.7,814.2" fill="none" stroke="#1E97D4" stroke-width="4.4"/>
<polygon points="916.4,807.7 928.1,816.2 923.63,829.95 909.17,829.95 904.7,816.2" fill="none" stroke="#1E97D4" stroke-width="4.4"/>
<polygon points="964,759.7 975.7,768.2 971.23,781.95 956.77,781.95 952.3,768.2" fill="none" stroke="#1E97D4" stroke-width="4.4"/>
<polygon points="964,767.7 975.7,776.2 971.23,789.95 956.77,789.95 952.3,776.2" fill="none" stroke="#1E97D4" stroke-width="4.4"/>
<polygon points="964,775.7 975.7,784.2 971.23,797.95 956.77,797.95 952.3,784.2" fill="none" stroke="#1E97D4" stroke-width="4.4"/>
<polygon points="964,783.7 975.7,792.2 971.23,805.95 956.77,805.95 952.3,792.2" fill="none" stroke="#1E97D4" stroke-width="4.4"/>
<polygon points="964,787.7 975.7,796.2 971.23,809.95 956.77,809.95 952.3,796.2" fill="none" stroke="#1E97D4" stroke-width="4.4"/>
<polygon points="964,806.7 975.7,815.2 971.23,828.95 956.77,828.95 952.3,815.2" fill="none" stroke="#1E97D4" stroke-width="4.4"/>
<polygon points="964,835.7 975.7,844.2 971.23,857.95 956.77,857.95 952.3,844.2" fill="none" stroke="#1E97D4" stroke-width="4.4"/>
<polygon points="1012.1,847.5 1023.8,856 1019.33,869.75 1004.87,869.75 1000.4,856" fill="none" stroke="#1E97D4" stroke-width="4.4"/>
<polygon points="1012.1,902.3 1023.8,910.8 1019.33,924.55 1004.87,924.55 1000.4,910.8" fill="none" stroke="#1E97D4" stroke-width="4.4"/>
<polygon points="1012.1,916.2 1023.8,924.7 1019.33,938.45 1004.87,938.45 1000.4,924.7" fill="none" stroke="#1E97D4" stroke-width="4.4"/>
<polygon points="1012.1,919.7 1023.8,928.2 1019.33,941.95 1004.87,941.95 1000.4,928.2" fill="none" stroke="#1E97D4" stroke-width="4.4"/>
<polygon points="1012.1,923.7 1023.8,932.2 1019.33,945.95 1004.87,945.95 1000.4,932.2" fill="none" stroke="#1E97D4" stroke-width="4.4"/>
<polygon points="1012.1,927.7 1023.8,936.2 1019.33,949.95 1004.87,949.95 1000.4,936.2" fill="none" stroke="#1E97D4" stroke-width="4.4"/>
<polygon points="1012.1,932.7 1023.8,941.2 1019.33,954.95 1004.87,954.95 1000.4,941.2" fill="none" stroke="#1E97D4" stroke-width="4.4"/>
<polygon points="1070.3,846.7 1082,855.2 1077.53,868.95 1063.07,868.95 1058.6,855.2" fill="none" stroke="#1E97D4" stroke-width="4.4"/>
<polygon points="1070.3,870.7 1082,879.2 1077.53,892.95 1063.07,892.95 1058.6,879.2" fill="none" stroke="#1E97D4" stroke-width="4.4"/>
<polygon points="1070.3,888.7 1082,897.2 1077.53,910.95 1063.07,910.95 1058.6,897.2" fill="none" stroke="#1E97D4" stroke-width="4.4"/>
<polygon points="1070.3,892.7 1082,901.2 1077.53,914.95 1063.07,914.95 1058.6,901.2" fill="none" stroke="#1E97D4" stroke-width="4.4"/>
<polygon points="1290.5,851.7 1302.2,860.2 1297.73,873.95 1283.27,873.95 1278.8,860.2" fill="none" stroke="#1E97D4" stroke-width="4.4"/>
<polygon points="1290.5,856.7 1302.2,865.2 1297.73,878.95 1283.27,878.95 1278.8,865.2" fill="none" stroke="#1E97D4" stroke-width="4.4"/>
<polygon points="1290.5,870.7 1302.2,879.2 1297.73,892.95 1283.27,892.95 1278.8,879.2" fill="none" stroke="#1E97D4" stroke-width="4.4"/>
<polygon points="1290.5,888.7 1302.2,897.2 1297.73,910.95 1283.27,910.95 1278.8,897.2" fill="none" stroke="#1E97D4" stroke-width="4.4"/>
<polygon points="1290.5,903.7 1302.2,912.2 1297.73,925.95 1283.27,925.95 1278.8,912.2" fill="none" stroke="#1E97D4" stroke-width="4.4"/>
<rect x="843.7" y="683.6" width="484.3" height="363.9" fill="none" stroke="#000" stroke-width="3.2"/>
<line x1="896.71" y1="1047.5" x2="896.71" y2="1042" stroke="#000" stroke-width="2.8"/>
<line x1="941.36" y1="1047.5" x2="941.36" y2="1042" stroke="#000" stroke-width="2.8"/>
<line x1="975.62" y1="1047.5" x2="975.62" y2="1042" stroke="#000" stroke-width="2.8"/>
<line x1="1004.51" y1="1047.5" x2="1004.51" y2="1042" stroke="#000" stroke-width="2.8"/>
<line x1="1029.96" y1="1047.5" x2="1029.96" y2="1035.9" stroke="#000" stroke-width="2.8"/>
<line x1="1052.97" y1="1047.5" x2="1052.97" y2="1042" stroke="#000" stroke-width="2.8"/>
<line x1="1074.13" y1="1047.5" x2="1074.13" y2="1042" stroke="#000" stroke-width="2.8"/>
<line x1="1093.82" y1="1047.5" x2="1093.82" y2="1042" stroke="#000" stroke-width="2.8"/>
<line x1="1112.32" y1="1047.5" x2="1112.32" y2="1042" stroke="#000" stroke-width="2.8"/>
<line x1="1129.81" y1="1047.5" x2="1129.81" y2="1035.9" stroke="#000" stroke-width="2.8"/>
<line x1="1146.45" y1="1047.5" x2="1146.45" y2="1042" stroke="#000" stroke-width="2.8"/>
<line x1="1162.35" y1="1047.5" x2="1162.35" y2="1042" stroke="#000" stroke-width="2.8"/>
<line x1="1177.6" y1="1047.5" x2="1177.6" y2="1042" stroke="#000" stroke-width="2.8"/>
<line x1="1192.27" y1="1047.5" x2="1192.27" y2="1042" stroke="#000" stroke-width="2.8"/>
<line x1="1206.43" y1="1047.5" x2="1206.43" y2="1035.9" stroke="#000" stroke-width="2.8"/>
<line x1="1220.12" y1="1047.5" x2="1220.12" y2="1042" stroke="#000" stroke-width="2.8"/>
<line x1="1233.39" y1="1047.5" x2="1233.39" y2="1042" stroke="#000" stroke-width="2.8"/>
<line x1="1246.28" y1="1047.5" x2="1246.28" y2="1042" stroke="#000" stroke-width="2.8"/>
<line x1="1258.81" y1="1047.5" x2="1258.81" y2="1042" stroke="#000" stroke-width="2.8"/>
<line x1="1271.02" y1="1047.5" x2="1271.02" y2="1035.9" stroke="#000" stroke-width="2.8"/>
<line x1="1282.93" y1="1047.5" x2="1282.93" y2="1042" stroke="#000" stroke-width="2.8"/>
<line x1="1294.55" y1="1047.5" x2="1294.55" y2="1042" stroke="#000" stroke-width="2.8"/>
<line x1="1305.92" y1="1047.5" x2="1305.92" y2="1042" stroke="#000" stroke-width="2.8"/>
<line x1="1317.04" y1="1047.5" x2="1317.04" y2="1042" stroke="#000" stroke-width="2.8"/>
<line x1="1029.96" y1="1047.5" x2="1029.96" y2="1035.9" stroke="#000" stroke-width="2.8"/>
<line x1="1129.81" y1="1047.5" x2="1129.81" y2="1035.9" stroke="#000" stroke-width="2.8"/>
<line x1="1206.43" y1="1047.5" x2="1206.43" y2="1035.9" stroke="#000" stroke-width="2.8"/>
<line x1="1271.02" y1="1047.5" x2="1271.02" y2="1035.9" stroke="#000" stroke-width="2.8"/>
<line x1="843.7" y1="1026.1" x2="849.2" y2="1026.1" stroke="#000" stroke-width="2.8"/>
<line x1="843.7" y1="1006" x2="849.2" y2="1006" stroke="#000" stroke-width="2.8"/>
<line x1="843.7" y1="965.8" x2="849.2" y2="965.8" stroke="#000" stroke-width="2.8"/>
<line x1="843.7" y1="945.7" x2="849.2" y2="945.7" stroke="#000" stroke-width="2.8"/>
<line x1="843.7" y1="925.6" x2="849.2" y2="925.6" stroke="#000" stroke-width="2.8"/>
<line x1="843.7" y1="905.5" x2="849.2" y2="905.5" stroke="#000" stroke-width="2.8"/>
<line x1="843.7" y1="865.3" x2="849.2" y2="865.3" stroke="#000" stroke-width="2.8"/>
<line x1="843.7" y1="845.2" x2="849.2" y2="845.2" stroke="#000" stroke-width="2.8"/>
<line x1="843.7" y1="825.1" x2="849.2" y2="825.1" stroke="#000" stroke-width="2.8"/>
<line x1="843.7" y1="805" x2="849.2" y2="805" stroke="#000" stroke-width="2.8"/>
<line x1="843.7" y1="764.8" x2="849.2" y2="764.8" stroke="#000" stroke-width="2.8"/>
<line x1="843.7" y1="744.7" x2="849.2" y2="744.7" stroke="#000" stroke-width="2.8"/>
<line x1="843.7" y1="724.6" x2="849.2" y2="724.6" stroke="#000" stroke-width="2.8"/>
<line x1="843.7" y1="704.5" x2="849.2" y2="704.5" stroke="#000" stroke-width="2.8"/>
<line x1="843.7" y1="985.9" x2="855.3" y2="985.9" stroke="#000" stroke-width="2.8"/>
<line x1="843.7" y1="885.4" x2="855.3" y2="885.4" stroke="#000" stroke-width="2.8"/>
<line x1="843.7" y1="784.9" x2="855.3" y2="784.9" stroke="#000" stroke-width="2.8"/>
<text x="831.2" y="994.3" font-size="27.1" text-anchor="end" textLength="36.3" lengthAdjust="spacingAndGlyphs">2.0</text>
<text x="831.2" y="893.8" font-size="27.1" text-anchor="end" textLength="36.3" lengthAdjust="spacingAndGlyphs">2.5</text>
<text x="831.2" y="793.3" font-size="27.1" text-anchor="end" textLength="36.3" lengthAdjust="spacingAndGlyphs">3.0</text>
<text x="831.2" y="692.8" font-size="27.1" text-anchor="end" textLength="36.3" lengthAdjust="spacingAndGlyphs">3.5</text>
<text x="1029.96" y="1080.3" font-size="26.1" text-anchor="middle" textLength="29.5" lengthAdjust="spacingAndGlyphs">10</text>
<text x="1129.81" y="1080.3" font-size="26.1" text-anchor="middle" textLength="29.5" lengthAdjust="spacingAndGlyphs">20</text>
<text x="1206.43" y="1080.3" font-size="26.1" text-anchor="middle" textLength="29.5" lengthAdjust="spacingAndGlyphs">30</text>
<text x="1271.02" y="1080.3" font-size="26.1" text-anchor="middle" textLength="29.5" lengthAdjust="spacingAndGlyphs">40</text>
<text x="1327.93" y="1080.3" font-size="26.1" text-anchor="middle" textLength="29.5" lengthAdjust="spacingAndGlyphs">50</text>
<text x="929.9" y="1129.9" font-size="34.3" textLength="310.6" lengthAdjust="spacingAndGlyphs">Bilayer period <tspan font-family="'Liberation Serif', serif" font-size="34.99">&#923;</tspan> (nm)</text>
<g transform="translate(766.9,1083) rotate(-90)"><text x="0" y="0" font-size="34" textLength="402" lengthAdjust="spacingAndGlyphs">Fracture toughness (MPa&#183;m</text><text x="404.2" y="-13.5" font-size="23">&#189;</text><text x="424" y="0" font-size="34">)</text></g>
<text x="704.5" y="1160.3" font-size="37" font-weight="bold" fill="#1d1d1d" stroke="#1d1d1d" stroke-width="1.3" stroke-linejoin="round">h</text>
<line x1="843.9" y1="1315.8" x2="1328" y2="1315.8" stroke="#8a8a8a" stroke-width="1.8" stroke-dasharray="3.4 3"/>
<line x1="843.9" y1="1418.3" x2="1328" y2="1418.3" stroke="#8a8a8a" stroke-width="1.8" stroke-dasharray="3.4 3"/>
<line x1="967.5" y1="1184.6" x2="967.5" y2="1547.6" stroke="#bfbfbf" stroke-width="2.9" stroke-dasharray="2.9 3.1"/>
<text x="1036.1" y="1268.6" font-size="21.5" textLength="194.1" lengthAdjust="spacingAndGlyphs">~12% enhancement</text>
<line x1="1133" y1="1283.8" x2="1217.6" y2="1340.3" stroke="#808080" stroke-width="1.6"/>
<line x1="1229.2" y1="1327.8" x2="1229.2" y2="1406" stroke="#808080" stroke-width="1.6"/>
<polygon points="1229.2,1315.8 1235.2,1331.8 1229.2,1327.8 1223.2,1331.8" fill="#808080" stroke="none" stroke-width="0"/>
<polygon points="1229.2,1418 1235.2,1402 1229.2,1406 1223.2,1402" fill="#808080" stroke="none" stroke-width="0"/>
<line x1="887.77" y1="1402.44" x2="911.23" y2="1334.86" stroke="#F2A06C" stroke-width="3"/>
<line x1="933.77" y1="1317.73" x2="947.53" y2="1316.87" stroke="#F2A06C" stroke-width="3"/>
<line x1="974.61" y1="1329.47" x2="1002.19" y2="1366.73" stroke="#F2A06C" stroke-width="3"/>
<line x1="1027.68" y1="1387.64" x2="1055.12" y2="1400.56" stroke="#F2A06C" stroke-width="3"/>
<line x1="1087.5" y1="1407.77" x2="1273.8" y2="1407.43" stroke="#F2A06C" stroke-width="3"/>
<line x1="882.2" y1="1362.3" x2="882.2" y2="1408.5" stroke="#E9772F" stroke-width="3.2"/>
<line x1="882.2" y1="1428.5" x2="882.2" y2="1474.6" stroke="#E9772F" stroke-width="3.2"/>
<line x1="869.7" y1="1362.3" x2="894.7" y2="1362.3" stroke="#E9772F" stroke-width="3.2"/>
<line x1="869.7" y1="1474.6" x2="894.7" y2="1474.6" stroke="#E9772F" stroke-width="3.2"/>
<line x1="916.8" y1="1256.1" x2="916.8" y2="1308.8" stroke="#E9772F" stroke-width="3.2"/>
<line x1="916.8" y1="1328.8" x2="916.8" y2="1380.8" stroke="#E9772F" stroke-width="3.2"/>
<line x1="904.3" y1="1256.1" x2="929.3" y2="1256.1" stroke="#E9772F" stroke-width="3.2"/>
<line x1="904.3" y1="1380.8" x2="929.3" y2="1380.8" stroke="#E9772F" stroke-width="3.2"/>
<line x1="964.5" y1="1262.3" x2="964.5" y2="1305.8" stroke="#E9772F" stroke-width="3.2"/>
<line x1="964.5" y1="1325.8" x2="964.5" y2="1368.8" stroke="#E9772F" stroke-width="3.2"/>
<line x1="952" y1="1262.3" x2="977" y2="1262.3" stroke="#E9772F" stroke-width="3.2"/>
<line x1="952" y1="1368.8" x2="977" y2="1368.8" stroke="#E9772F" stroke-width="3.2"/>
<line x1="1012.3" y1="1322.1" x2="1012.3" y2="1370.4" stroke="#E9772F" stroke-width="3.2"/>
<line x1="1012.3" y1="1390.4" x2="1012.3" y2="1437.8" stroke="#E9772F" stroke-width="3.2"/>
<line x1="999.8" y1="1322.1" x2="1024.8" y2="1322.1" stroke="#E9772F" stroke-width="3.2"/>
<line x1="999.8" y1="1437.8" x2="1024.8" y2="1437.8" stroke="#E9772F" stroke-width="3.2"/>
<line x1="1070.5" y1="1351.3" x2="1070.5" y2="1397.8" stroke="#E9772F" stroke-width="3.2"/>
<line x1="1070.5" y1="1417.8" x2="1070.5" y2="1463.5" stroke="#E9772F" stroke-width="3.2"/>
<line x1="1058" y1="1351.3" x2="1083" y2="1351.3" stroke="#E9772F" stroke-width="3.2"/>
<line x1="1058" y1="1463.5" x2="1083" y2="1463.5" stroke="#E9772F" stroke-width="3.2"/>
<line x1="1290.8" y1="1347.9" x2="1290.8" y2="1397.4" stroke="#E9772F" stroke-width="3.2"/>
<line x1="1290.8" y1="1417.4" x2="1290.8" y2="1466.7" stroke="#E9772F" stroke-width="3.2"/>
<line x1="1278.3" y1="1347.9" x2="1303.3" y2="1347.9" stroke="#E9772F" stroke-width="3.2"/>
<line x1="1278.3" y1="1466.7" x2="1303.3" y2="1466.7" stroke="#E9772F" stroke-width="3.2"/>
<polygon points="882.2,1407.1 892.07,1412.8 892.07,1424.2 882.2,1429.9 872.33,1424.2 872.33,1412.8" fill="none" stroke="#E9772F" stroke-width="4.4"/>
<polygon points="916.8,1307.4 926.67,1313.1 926.67,1324.5 916.8,1330.2 906.93,1324.5 906.93,1313.1" fill="none" stroke="#E9772F" stroke-width="4.4"/>
<polygon points="964.5,1304.4 974.37,1310.1 974.37,1321.5 964.5,1327.2 954.63,1321.5 954.63,1310.1" fill="none" stroke="#E9772F" stroke-width="4.4"/>
<polygon points="1012.3,1369 1022.17,1374.7 1022.17,1386.1 1012.3,1391.8 1002.43,1386.1 1002.43,1374.7" fill="none" stroke="#E9772F" stroke-width="4.4"/>
<polygon points="1070.5,1396.4 1080.37,1402.1 1080.37,1413.5 1070.5,1419.2 1060.63,1413.5 1060.63,1402.1" fill="none" stroke="#E9772F" stroke-width="4.4"/>
<polygon points="1290.8,1396 1300.67,1401.7 1300.67,1413.1 1290.8,1418.8 1280.93,1413.1 1280.93,1401.7" fill="none" stroke="#E9772F" stroke-width="4.4"/>
<rect x="843.9" y="1184.6" width="484.1" height="363" fill="none" stroke="#000" stroke-width="3.2"/>
<line x1="896.71" y1="1547.6" x2="896.71" y2="1542.1" stroke="#000" stroke-width="2.8"/>
<line x1="941.36" y1="1547.6" x2="941.36" y2="1542.1" stroke="#000" stroke-width="2.8"/>
<line x1="975.62" y1="1547.6" x2="975.62" y2="1542.1" stroke="#000" stroke-width="2.8"/>
<line x1="1004.51" y1="1547.6" x2="1004.51" y2="1542.1" stroke="#000" stroke-width="2.8"/>
<line x1="1029.96" y1="1547.6" x2="1029.96" y2="1536" stroke="#000" stroke-width="2.8"/>
<line x1="1052.97" y1="1547.6" x2="1052.97" y2="1542.1" stroke="#000" stroke-width="2.8"/>
<line x1="1074.13" y1="1547.6" x2="1074.13" y2="1542.1" stroke="#000" stroke-width="2.8"/>
<line x1="1093.82" y1="1547.6" x2="1093.82" y2="1542.1" stroke="#000" stroke-width="2.8"/>
<line x1="1112.32" y1="1547.6" x2="1112.32" y2="1542.1" stroke="#000" stroke-width="2.8"/>
<line x1="1129.81" y1="1547.6" x2="1129.81" y2="1536" stroke="#000" stroke-width="2.8"/>
<line x1="1146.45" y1="1547.6" x2="1146.45" y2="1542.1" stroke="#000" stroke-width="2.8"/>
<line x1="1162.35" y1="1547.6" x2="1162.35" y2="1542.1" stroke="#000" stroke-width="2.8"/>
<line x1="1177.6" y1="1547.6" x2="1177.6" y2="1542.1" stroke="#000" stroke-width="2.8"/>
<line x1="1192.27" y1="1547.6" x2="1192.27" y2="1542.1" stroke="#000" stroke-width="2.8"/>
<line x1="1206.43" y1="1547.6" x2="1206.43" y2="1536" stroke="#000" stroke-width="2.8"/>
<line x1="1220.12" y1="1547.6" x2="1220.12" y2="1542.1" stroke="#000" stroke-width="2.8"/>
<line x1="1233.39" y1="1547.6" x2="1233.39" y2="1542.1" stroke="#000" stroke-width="2.8"/>
<line x1="1246.28" y1="1547.6" x2="1246.28" y2="1542.1" stroke="#000" stroke-width="2.8"/>
<line x1="1258.81" y1="1547.6" x2="1258.81" y2="1542.1" stroke="#000" stroke-width="2.8"/>
<line x1="1271.02" y1="1547.6" x2="1271.02" y2="1536" stroke="#000" stroke-width="2.8"/>
<line x1="1282.93" y1="1547.6" x2="1282.93" y2="1542.1" stroke="#000" stroke-width="2.8"/>
<line x1="1294.55" y1="1547.6" x2="1294.55" y2="1542.1" stroke="#000" stroke-width="2.8"/>
<line x1="1305.92" y1="1547.6" x2="1305.92" y2="1542.1" stroke="#000" stroke-width="2.8"/>
<line x1="1317.04" y1="1547.6" x2="1317.04" y2="1542.1" stroke="#000" stroke-width="2.8"/>
<line x1="1029.96" y1="1547.6" x2="1029.96" y2="1536" stroke="#000" stroke-width="2.8"/>
<line x1="1129.81" y1="1547.6" x2="1129.81" y2="1536" stroke="#000" stroke-width="2.8"/>
<line x1="1206.43" y1="1547.6" x2="1206.43" y2="1536" stroke="#000" stroke-width="2.8"/>
<line x1="1271.02" y1="1547.6" x2="1271.02" y2="1536" stroke="#000" stroke-width="2.8"/>
<line x1="843.9" y1="1526.82" x2="849.4" y2="1526.82" stroke="#000" stroke-width="2.8"/>
<line x1="843.9" y1="1506.04" x2="849.4" y2="1506.04" stroke="#000" stroke-width="2.8"/>
<line x1="843.9" y1="1485.26" x2="849.4" y2="1485.26" stroke="#000" stroke-width="2.8"/>
<line x1="843.9" y1="1464.48" x2="849.4" y2="1464.48" stroke="#000" stroke-width="2.8"/>
<line x1="843.9" y1="1422.92" x2="849.4" y2="1422.92" stroke="#000" stroke-width="2.8"/>
<line x1="843.9" y1="1402.14" x2="849.4" y2="1402.14" stroke="#000" stroke-width="2.8"/>
<line x1="843.9" y1="1381.36" x2="849.4" y2="1381.36" stroke="#000" stroke-width="2.8"/>
<line x1="843.9" y1="1360.58" x2="849.4" y2="1360.58" stroke="#000" stroke-width="2.8"/>
<line x1="843.9" y1="1319.02" x2="849.4" y2="1319.02" stroke="#000" stroke-width="2.8"/>
<line x1="843.9" y1="1298.24" x2="849.4" y2="1298.24" stroke="#000" stroke-width="2.8"/>
<line x1="843.9" y1="1277.46" x2="849.4" y2="1277.46" stroke="#000" stroke-width="2.8"/>
<line x1="843.9" y1="1256.68" x2="849.4" y2="1256.68" stroke="#000" stroke-width="2.8"/>
<line x1="843.9" y1="1215.12" x2="849.4" y2="1215.12" stroke="#000" stroke-width="2.8"/>
<line x1="843.9" y1="1194.34" x2="849.4" y2="1194.34" stroke="#000" stroke-width="2.8"/>
<line x1="843.9" y1="1443.7" x2="855.5" y2="1443.7" stroke="#000" stroke-width="2.8"/>
<line x1="843.9" y1="1339.8" x2="855.5" y2="1339.8" stroke="#000" stroke-width="2.8"/>
<line x1="843.9" y1="1235.9" x2="855.5" y2="1235.9" stroke="#000" stroke-width="2.8"/>
<text x="832.3" y="1556.5" font-size="29" text-anchor="end" textLength="51.1" lengthAdjust="spacingAndGlyphs">0.06</text>
<text x="832.3" y="1452.6" font-size="29" text-anchor="end" textLength="51.1" lengthAdjust="spacingAndGlyphs">0.07</text>
<text x="832.3" y="1348.7" font-size="29" text-anchor="end" textLength="51.1" lengthAdjust="spacingAndGlyphs">0.08</text>
<text x="832.3" y="1244.8" font-size="29" text-anchor="end" textLength="51.1" lengthAdjust="spacingAndGlyphs">0.09</text>
<text x="1029.96" y="1580.8" font-size="26.1" text-anchor="middle" textLength="29.5" lengthAdjust="spacingAndGlyphs">10</text>
<text x="1129.81" y="1580.8" font-size="26.1" text-anchor="middle" textLength="29.5" lengthAdjust="spacingAndGlyphs">20</text>
<text x="1206.43" y="1580.8" font-size="26.1" text-anchor="middle" textLength="29.5" lengthAdjust="spacingAndGlyphs">30</text>
<text x="1271.02" y="1580.8" font-size="26.1" text-anchor="middle" textLength="29.5" lengthAdjust="spacingAndGlyphs">40</text>
<text x="1327.93" y="1580.8" font-size="26.1" text-anchor="middle" textLength="29.5" lengthAdjust="spacingAndGlyphs">50</text>
<text x="930.1" y="1629.5" font-size="34.3" textLength="311.9" lengthAdjust="spacingAndGlyphs">Bilayer period <tspan font-family="'Liberation Serif', serif" font-size="34.99">&#923;</tspan> (nm)</text>
<text x="753.5" y="1365.5" font-size="34.5" text-anchor="middle" textLength="115" lengthAdjust="spacingAndGlyphs" transform="rotate(-90 753.5 1365.5)">H / E (-)</text>
<defs>
<radialGradient id="tipg" cx="0.5" cy="0.35" r="0.6">
<stop offset="0" stop-color="#1a1a1a"/><stop offset="0.6" stop-color="#202020"/><stop offset="1" stop-color="#3a3a3a"/>
</radialGradient>
<linearGradient id="beamg" x1="0" y1="0" x2="0" y2="1">
<stop offset="0" stop-color="#7a7a7a"/><stop offset="0.16" stop-color="#727272"/><stop offset="0.19" stop-color="#3e3e3e"/><stop offset="0.5" stop-color="#474747"/><stop offset="0.85" stop-color="#4c4c4c"/><stop offset="0.94" stop-color="#5e5e5e"/><stop offset="0.985" stop-color="#969696"/><stop offset="1" stop-color="#8a8a8a"/>
</linearGradient>
<linearGradient id="eleft" x1="0" y1="0" x2="0" y2="1">
<stop offset="0" stop-color="#3b3b3b"/><stop offset="0.61" stop-color="#3f3f3f"/><stop offset="0.7" stop-color="#7a7a7a"/><stop offset="0.72" stop-color="#8c8c8c"/><stop offset="0.722" stop-color="#6a6a6a"/><stop offset="1" stop-color="#686868"/>
</linearGradient>
<linearGradient id="epil" x1="0" y1="0" x2="0" y2="1">
<stop offset="0" stop-color="#3d3d3d"/><stop offset="0.36" stop-color="#3e3e3e"/><stop offset="0.375" stop-color="#4c4c4c"/><stop offset="0.85" stop-color="#4a4a4a"/><stop offset="0.93" stop-color="#707070"/><stop offset="0.99" stop-color="#a0a0a0"/><stop offset="1" stop-color="#a8a8a8"/>
</linearGradient>
<linearGradient id="fleft" x1="0" y1="0" x2="0" y2="1">
<stop offset="0" stop-color="#555555"/><stop offset="0.61" stop-color="#575757"/><stop offset="0.69" stop-color="#8a8a8a"/><stop offset="0.705" stop-color="#9c9c9c"/><stop offset="0.707" stop-color="#5a5a5a"/><stop offset="1" stop-color="#585858"/>
</linearGradient>
<linearGradient id="fright" x1="0" y1="0" x2="0" y2="1">
<stop offset="0" stop-color="#505050"/><stop offset="0.12" stop-color="#5a5a5a"/><stop offset="0.2" stop-color="#6a6a6a"/><stop offset="0.26" stop-color="#9a9a9a"/><stop offset="0.275" stop-color="#9a9a9a"/><stop offset="0.277" stop-color="#585858"/><stop offset="1" stop-color="#585858"/>
</linearGradient>
<linearGradient id="fpil" x1="0" y1="0" x2="0" y2="1">
<stop offset="0" stop-color="#6a6a6a"/><stop offset="0.2" stop-color="#616161"/><stop offset="0.36" stop-color="#4c4c4c"/><stop offset="0.44" stop-color="#4e4e4e"/><stop offset="0.46" stop-color="#575757"/><stop offset="0.84" stop-color="#535353"/><stop offset="0.93" stop-color="#777777"/><stop offset="0.99" stop-color="#a8a8a8"/><stop offset="1" stop-color="#b0b0b0"/>
</linearGradient>
<linearGradient id="wedgeR" x1="0" y1="0" x2="1" y2="0">
<stop offset="0" stop-color="#ffffff" stop-opacity="0"/><stop offset="0.45" stop-color="#ffffff" stop-opacity="0.9"/><stop offset="0.6" stop-color="#ffffff" stop-opacity="1"/><stop offset="1" stop-color="#ffffff" stop-opacity="1"/>
</linearGradient>
<filter id="tex" x="0" y="0" width="100%" height="100%" color-interpolation-filters="sRGB">
<feTurbulence type="fractalNoise" baseFrequency="0.1 0.28" numOctaves="2" seed="5"/>
<feColorMatrix type="matrix" values="0.24 0 0 0 0.345  0.24 0 0 0 0.345  0.24 0 0 0 0.345  0 0 0 0 1"/>
<feComposite in2="SourceGraphic" operator="in"/>
</filter>
<filter id="frac" x="0" y="0" width="100%" height="100%" color-interpolation-filters="sRGB">
<feTurbulence type="fractalNoise" baseFrequency="0.1 0.018" numOctaves="4" seed="11"/>
<feColorMatrix type="matrix" values="0.48 0 0 0 0.05  0.48 0 0 0 0.05  0.48 0 0 0 0.05  0 0 0 0 1"/>
<feComposite in2="SourceGraphic" operator="in"/>
</filter>
<filter id="blur1" x="-20%" y="-20%" width="140%" height="140%"><feGaussianBlur stdDeviation="1.2"/></filter>
<filter id="blur2" x="-50%" y="-50%" width="200%" height="200%"><feGaussianBlur stdDeviation="2.5"/></filter>
<filter id="blur4" x="-50%" y="-50%" width="200%" height="200%"><feGaussianBlur stdDeviation="4"/></filter>
<linearGradient id="fadeV" x1="0" y1="0" x2="0" y2="1">
<stop offset="0" stop-color="#fff" stop-opacity="0.5"/><stop offset="0.08" stop-color="#fff" stop-opacity="1"/><stop offset="0.75" stop-color="#fff" stop-opacity="1"/><stop offset="1" stop-color="#fff" stop-opacity="0"/>
</linearGradient>
<mask id="mE" maskContentUnits="userSpaceOnUse"><rect x="725" y="416" width="260" height="135" fill="url(#fadeV)"/></mask>
<mask id="mF" maskContentUnits="userSpaceOnUse"><rect x="1060" y="432" width="245" height="112" fill="url(#fadeV)"/></mask>
<linearGradient id="botband" x1="0" y1="0" x2="0" y2="1">
<stop offset="0" stop-color="#8a8a8a" stop-opacity="0"/><stop offset="0.6" stop-color="#8a8a8a" stop-opacity="0.6"/><stop offset="0.92" stop-color="#a6a6a6" stop-opacity="1"/><stop offset="1" stop-color="#a6a6a6" stop-opacity="1"/>
</linearGradient>
<clipPath id="clipD"><rect x="689.2" y="0" width="656.3" height="324.8"/></clipPath>
<clipPath id="clipE"><rect x="689.3" y="334.4" width="323.9" height="263.7"/></clipPath>
<clipPath id="clipF"><rect x="1022" y="334.3" width="324" height="264.7"/></clipPath>
</defs>

<!-- ===== panel d ===== -->
<g clip-path="url(#clipD)">
<rect x="689.2" y="0" width="656.3" height="324.8" fill="#383838"/>
<rect x="689.2" y="0" width="656.3" height="108.5" fill="#777" filter="url(#tex)"/>
<rect x="1262" y="100" width="84" height="60" fill="#777" filter="url(#tex)"/>
<line x1="689.2" y1="107.5" x2="1345.5" y2="107.5" stroke="#8a8a8a" stroke-width="1.5" filter="url(#blur1)"/>
<path d="M689.2,108.5 L1266,108.5 Q1272,109 1270,125 L1267,143.5 L689.2,143.5 Z" fill="#393939"/>
<path d="M1267.5,143 Q1269,120 1284,112" fill="none" stroke="#b8b8b8" stroke-width="3" filter="url(#blur1)"/>
<path d="M1272,143 Q1276,122 1292,114" fill="none" stroke="#9a9a9a" stroke-width="3" filter="url(#blur2)"/>
<rect x="689.2" y="141" width="114" height="25.3" fill="#3d3d3d"/>
<rect x="689.2" y="166.3" width="114" height="43" fill="#252525"/>
<rect x="689.2" y="209" width="570" height="43" fill="#2b2b2b"/>
<path d="M689.2,209 L713,209 Q716,240 722,255 L689.2,262 Z" fill="#262626"/>
<line x1="717" y1="210.5" x2="800" y2="209.5" stroke="#6a6a6a" stroke-width="1.5" stroke-dasharray="3 3"/>
<line x1="740" y1="251" x2="1258" y2="250" stroke="#404040" stroke-width="1.5"/>
<path d="M689.2,262 L740,251 L1258,250 L1258,324.8 L689.2,324.8 Z" fill="#383838"/>
<rect x="1258" y="209" width="90" height="116" fill="#3a3a3a"/>
<rect x="1260" y="211" width="14" height="40" fill="#505050" filter="url(#blur4)"/>
<path d="M1259.8,211 L1259.8,240 Q1259.5,248 1257,252" fill="none" stroke="#c8c8c8" stroke-width="1.6" filter="url(#blur1)"/>
<!-- beam -->
<path d="M813,141.8 L1318,141.8 L1318,209.8 L801.5,209.8 L801.5,180 Q802,147 813,141.8 Z" fill="url(#beamg)"/>
<rect x="810" y="141.8" width="508" height="12.5" fill="#777" filter="url(#tex)" opacity="0.7"/>
<path d="M801.8,207 L801.8,180 Q802.5,148 814,142.3" fill="none" stroke="#b0b0b0" stroke-width="2.2" filter="url(#blur1)"/>
<rect x="1316.8" y="159.5" width="30" height="58" fill="#484848"/>
<path d="M1317.5,214 L1320,172 Q1321,160 1328,159.8" fill="none" stroke="#b8b8b8" stroke-width="2.2" filter="url(#blur1)"/>
<line x1="1318" y1="216.5" x2="1346" y2="216.5" stroke="#8a8a8a" stroke-width="2.2"/>
<line x1="1258.5" y1="143" x2="1258.5" y2="157" stroke="#151515" stroke-width="2.2"/>
<!-- tip -->
<path d="M737.4,0 L965.7,0 L952.7,20.4 L934.2,50.1 L915.6,78 L897,104 L882.2,124.4 L867.3,138.8 L846.9,141.5 L824.7,138.3 L811.7,128 L800.5,115 L791.2,96.5 L785.7,78 L774.5,65 L754.1,33.4 Z" fill="url(#tipg)"/>
<path d="M785,80 Q778,95 790,110 Q795,128 812,133 Q820,120 808,105 Q800,88 785,80 Z" fill="#4a4a4a" filter="url(#blur2)"/>
<g fill="#6a6a6a" filter="url(#blur1)"><circle cx="789" cy="72" r="4.5"/><circle cx="786" cy="85" r="4"/><circle cx="792" cy="99" r="5"/><circle cx="799" cy="110" r="4.5"/><circle cx="806" cy="121" r="4"/><circle cx="815" cy="130" r="3.5"/><circle cx="780" cy="108" r="2.5"/><circle cx="772" cy="64" r="3"/></g>
<path d="M737.4,0 L754.1,33.4 L774.5,65 L785.7,78 L791.2,96.5 L800.5,115 L811.7,128 L824.7,138.3 L846.9,141.5 L867.3,138.8 L882.2,124.4 L897,104 L915.6,78 L934.2,50.1 L952.7,20.4 L965.7,0" fill="none" stroke="#6a6a6a" stroke-width="2.5" filter="url(#blur1)"/>
<line x1="689.2" y1="0.5" x2="1345.5" y2="0.5" stroke="#c8c8c8" stroke-width="1.2"/>
<!-- annotations -->
<line x1="847.6" y1="49.2" x2="847.6" y2="115" stroke="#fff" stroke-width="3"/>
<polygon points="847.6,138.3 835.6,109.5 847.6,113 859.6,109.5" fill="#fff"/>
<text x="858.4" y="72.4" font-size="27" font-weight="bold" fill="#fff">F</text>
<text x="700.8" y="43.6" font-size="40.5" font-weight="bold" fill="#fff" stroke="#fff" stroke-width="1.2" stroke-linejoin="round">d</text>
<text x="1112.5" y="72.9" font-size="29" font-weight="bold" fill="#fff" textLength="156.5" lengthAdjust="spacingAndGlyphs">Initial notch</text>
<line x1="1241.4" y1="81.6" x2="1253.2" y2="128" stroke="#fff" stroke-width="3"/>
<polygon points="1256.3,141.4 1246.8,124.2 1253,127 1258.2,121.5" fill="#fff"/>
<text x="1167.5" y="132.3" font-size="27" font-weight="bold" fill="#fff">b</text>
<text x="1168.5" y="193" font-size="27" font-weight="bold" fill="#fff">w</text>
<rect x="1044.9" y="200.5" width="5" height="20.5" fill="#fff"/>
<g stroke="#fff" stroke-width="1.6" stroke-dasharray="1.6 1.6">
<line x1="1150" y1="142.9" x2="1198.2" y2="142.9"/>
<line x1="1150" y1="155.2" x2="1198.2" y2="155.2"/>
<line x1="1150" y1="210.8" x2="1198.2" y2="210.8"/>
<line x1="847.6" y1="154.8" x2="847.6" y2="237.9"/>
<line x1="1258.7" y1="157" x2="1258.7" y2="236.3"/>
</g>
<line x1="1156.2" y1="124.8" x2="1156.2" y2="140" stroke="#fff" stroke-width="1.6"/>
<polygon points="1156.2,142.9 1152.6,136 1159.8,136" fill="#fff"/>
<line x1="1156.2" y1="160" x2="1156.2" y2="206" stroke="#fff" stroke-width="1.6"/>
<polygon points="1156.2,155.2 1152.6,162 1159.8,162" fill="#fff"/>
<polygon points="1156.2,210.8 1152.6,204 1159.8,204" fill="#fff"/>
<line x1="852" y1="231.8" x2="1254" y2="231.8" stroke="#111" stroke-width="3.6"/>
<line x1="852" y1="231.8" x2="1254" y2="231.8" stroke="#f4f4f4" stroke-width="2"/>
<polygon points="847.8,231.8 856,227.8 854,231.8 856,235.8" fill="#fff"/>
<polygon points="1258.5,231.8 1250.3,227.8 1252.3,231.8 1250.3,235.8" fill="#fff"/>
<rect x="1166" y="305" width="160" height="8" fill="#fff" stroke="#111" stroke-width="1"/>
</g>

<!-- ===== panel e ===== -->
<g clip-path="url(#clipE)">
<rect x="689.3" y="334.4" width="323.9" height="263.7" fill="#6a6a6a"/>
<rect x="689.3" y="334.4" width="60" height="263.7" fill="url(#eleft)"/>
<path d="M735,334.4 L956,334.4 L977,556 L729.5,556 L729.5,470 Q731,400 740,366 Z" fill="url(#epil)"/>
<path d="M736,334.4 L956,334.4 L962,417 L733,417 Z" fill="#575757"/>
<rect x="752" y="334.4" width="196" height="44" fill="#444444" filter="url(#blur2)"/>
<rect x="759" y="376" width="181" height="40.5" fill="#3c3c3c"/>
<path d="M736,417 L952,417 L968,551 L731,551 Z" fill="#4a4a4a" filter="url(#frac)" mask="url(#mE)"/>
<path d="M731.5,556 L732,470 Q734,400 746,360" fill="none" stroke="#b0b0b0" stroke-width="7" filter="url(#blur2)"/>
<path d="M729.8,557 L730.2,470 Q732,400 743,366" fill="none" stroke="#f2f2f2" stroke-width="2.4"/>
<path d="M940,334.4 L977,334.4 L977,556 L973,556 Q968,470 956,420 Q948,395 944,380 Z" fill="url(#wedgeR)"/>
<rect x="729.5" y="534" width="246" height="22.5" fill="url(#botband)"/>
<rect x="977" y="334.4" width="37" height="263.7" fill="#6a6a6a"/>
<circle cx="841" cy="345" r="3" fill="#8a8a8a"/><circle cx="862" cy="340" r="3" fill="#909090"/><circle cx="850" cy="353" r="2.5" fill="#888"/><circle cx="800" cy="344" r="2" fill="#777"/><circle cx="873" cy="358" r="2" fill="#808080"/>
<line x1="689.3" y1="334.9" x2="1013.2" y2="334.9" stroke="#b0b0b0" stroke-width="1"/>
<text x="700.8" y="380.1" font-size="40.5" font-weight="bold" fill="#fff" stroke="#fff" stroke-width="1.2" stroke-linejoin="round">e</text>
<text x="823.5" y="403.3" font-size="27" font-weight="bold" fill="#fff">a</text>
<g stroke="#fff" stroke-width="1.6" stroke-dasharray="1.6 1.6">
<line x1="799.9" y1="378" x2="847.1" y2="378"/>
<line x1="799.9" y1="415.9" x2="847.1" y2="415.9"/>
</g>
<line x1="811.2" y1="384" x2="811.2" y2="410" stroke="#fff" stroke-width="1.6"/>
<polygon points="811.2,378 807.6,385 814.8,385" fill="#fff"/>
<polygon points="811.2,415.9 807.6,409 814.8,409" fill="#fff"/>
<rect x="875.6" y="578.3" width="120.4" height="7.9" fill="#fff" stroke="#111" stroke-width="1.2"/>
</g>

<!-- ===== panel f ===== -->
<g clip-path="url(#clipF)">
<rect x="1022" y="334.3" width="324" height="264.7" fill="#585858"/>
<rect x="1022" y="334.3" width="50" height="264.7" fill="url(#fleft)"/>
<rect x="1295" y="334.3" width="51" height="264.7" fill="url(#fright)"/>
<path d="M1078,334.3 L1292,334.3 L1299,556.5 L1065.3,556.5 L1065.5,470 Q1068,400 1083,371 Z" fill="url(#fpil)"/>
<path d="M1078,334.3 L1292,334.3 L1296,434 L1070,434 Z" fill="#626262"/>
<rect x="1092" y="334.3" width="182" height="68" fill="#646464" filter="url(#blur2)"/>
<rect x="1096" y="400" width="173" height="33.5" fill="#4a4a4a"/>
<path d="M1072,433 L1283,433 L1292,544 L1067,544 Z" fill="#545454" filter="url(#frac)" mask="url(#mF)" opacity="0.7"/>
<path d="M1067.5,556 L1068,470 Q1071,405 1089,366" fill="none" stroke="#b4b4b4" stroke-width="7" filter="url(#blur2)"/>
<path d="M1065.8,557 L1066,470 Q1069,405 1086,370" fill="none" stroke="#f2f2f2" stroke-width="2.4"/>
<path d="M1268,334.3 L1293,334.3 L1299,400 L1299,556.5 L1296,556.5 Q1292,470 1284,420 Q1278,400 1272,380 Z" fill="url(#wedgeR)"/>
<rect x="1065.5" y="532" width="233" height="24.5" fill="url(#botband)"/>
<line x1="1022" y1="334.8" x2="1346" y2="334.8" stroke="#a8a8a8" stroke-width="1"/>
<text x="1026" y="380" font-size="40.5" font-weight="bold" fill="#fff" stroke="#fff" stroke-width="1.6" stroke-linejoin="round" textLength="17" lengthAdjust="spacingAndGlyphs">f</text>
<text x="1137.3" y="375.5" font-size="27.5" fill="#fff" textLength="90.5" lengthAdjust="spacingAndGlyphs">Bridges</text>
<line x1="1118.8" y1="379.5" x2="1104" y2="389.5" stroke="#fff" stroke-width="3"/>
<polygon points="1097,394.6 1103,381.5 1105,388.5 1111,392" fill="#fff"/>
<line x1="1245.7" y1="384" x2="1260.5" y2="396" stroke="#fff" stroke-width="3"/>
<polygon points="1268.2,402 1254,398.5 1261,396.5 1262.5,389" fill="#fff"/>
<rect x="1203.9" y="578.5" width="120.1" height="8" fill="#fff" stroke="#111" stroke-width="1.2"/>
</g>

</svg>
</body></html>
